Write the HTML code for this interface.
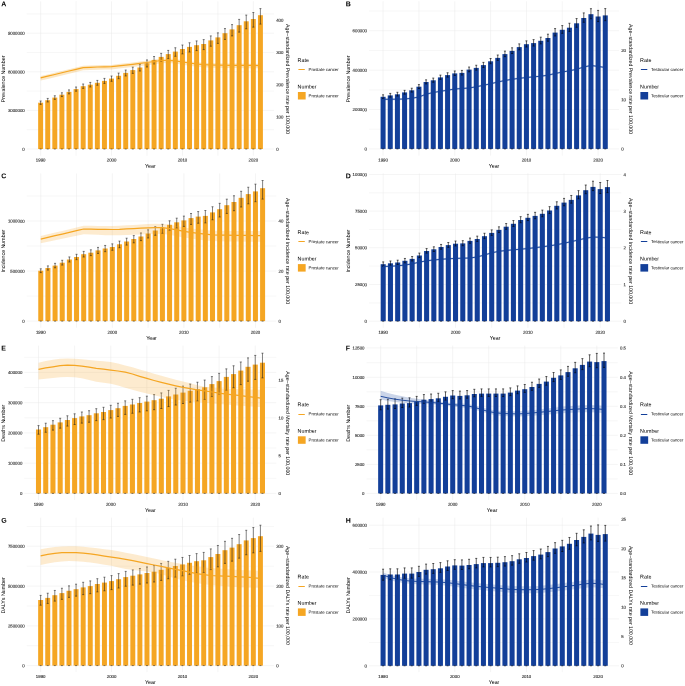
<!DOCTYPE html>
<html><head><meta charset="utf-8"><title>Figure</title>
<style>
html,body{margin:0;padding:0;background:#fff;}
svg{display:block;font-family:"Liberation Sans",sans-serif;text-rendering:geometricPrecision;}
</style></head>
<body>
<div style="will-change:transform;width:685px;height:686px;overflow:hidden">
<svg width="685" height="686" viewBox="0 0 685 686">
<rect width="685" height="686" fill="#ffffff"/>
<g transform="translate(0,0)">
<text transform="translate(1.2 6.25) matrix(1 0.004 0 1 0 0)" font-size="7.0" fill="#000" font-weight="bold">A</text>
<line x1="26.7" x2="274" y1="129.7" y2="129.7" stroke="#eeeeee" stroke-width="0.5"/>
<line x1="26.7" x2="274" y1="91.1" y2="91.1" stroke="#eeeeee" stroke-width="0.5"/>
<line x1="26.7" x2="274" y1="52.5" y2="52.5" stroke="#eeeeee" stroke-width="0.5"/>
<line x1="26.7" x2="274" y1="13.9" y2="13.9" stroke="#eeeeee" stroke-width="0.5"/>
<line x1="76.08" x2="76.08" y1="1.3" y2="155.7" stroke="#eaeaea" stroke-width="0.5"/>
<line x1="146.98" x2="146.98" y1="1.3" y2="155.7" stroke="#eaeaea" stroke-width="0.5"/>
<line x1="217.88" x2="217.88" y1="1.3" y2="155.7" stroke="#eaeaea" stroke-width="0.5"/>
<line x1="26.7" x2="274" y1="149" y2="149" stroke="#ebebeb" stroke-width="0.5"/>
<line x1="26.7" x2="274" y1="110.4" y2="110.4" stroke="#ebebeb" stroke-width="0.5"/>
<line x1="26.7" x2="274" y1="71.8" y2="71.8" stroke="#ebebeb" stroke-width="0.5"/>
<line x1="26.7" x2="274" y1="33.2" y2="33.2" stroke="#ebebeb" stroke-width="0.5"/>
<line x1="40.63" x2="40.63" y1="1.3" y2="155.7" stroke="#e8e8e8" stroke-width="0.5"/>
<line x1="111.53" x2="111.53" y1="1.3" y2="155.7" stroke="#e8e8e8" stroke-width="0.5"/>
<line x1="182.43" x2="182.43" y1="1.3" y2="155.7" stroke="#e8e8e8" stroke-width="0.5"/>
<line x1="253.33" x2="253.33" y1="1.3" y2="155.7" stroke="#e8e8e8" stroke-width="0.5"/>
<rect x="38.15" y="102.7" width="4.96" height="46.3" fill="#F5A623"/>
<rect x="45.24" y="100.2" width="4.96" height="48.8" fill="#F5A623"/>
<rect x="52.33" y="97.6" width="4.96" height="51.4" fill="#F5A623"/>
<rect x="59.42" y="94.7" width="4.96" height="54.3" fill="#F5A623"/>
<rect x="66.51" y="91.9" width="4.96" height="57.1" fill="#F5A623"/>
<rect x="73.6" y="89.1" width="4.96" height="59.9" fill="#F5A623"/>
<rect x="80.69" y="86.2" width="4.96" height="62.8" fill="#F5A623"/>
<rect x="87.78" y="84.7" width="4.96" height="64.3" fill="#F5A623"/>
<rect x="94.87" y="82.8" width="4.96" height="66.2" fill="#F5A623"/>
<rect x="101.96" y="80.9" width="4.96" height="68.1" fill="#F5A623"/>
<rect x="109.05" y="78.6" width="4.96" height="70.4" fill="#F5A623"/>
<rect x="116.14" y="75.8" width="4.96" height="73.2" fill="#F5A623"/>
<rect x="123.23" y="72.9" width="4.96" height="76.1" fill="#F5A623"/>
<rect x="130.32" y="70.1" width="4.96" height="78.9" fill="#F5A623"/>
<rect x="137.41" y="67.5" width="4.96" height="81.5" fill="#F5A623"/>
<rect x="144.5" y="63.2" width="4.96" height="85.8" fill="#F5A623"/>
<rect x="151.59" y="59.9" width="4.96" height="89.1" fill="#F5A623"/>
<rect x="158.68" y="56.9" width="4.96" height="92.1" fill="#F5A623"/>
<rect x="165.77" y="54.1" width="4.96" height="94.9" fill="#F5A623"/>
<rect x="172.86" y="51.6" width="4.96" height="97.4" fill="#F5A623"/>
<rect x="179.95" y="49" width="4.96" height="100" fill="#F5A623"/>
<rect x="187.04" y="46.9" width="4.96" height="102.1" fill="#F5A623"/>
<rect x="194.13" y="45.2" width="4.96" height="103.8" fill="#F5A623"/>
<rect x="201.22" y="44" width="4.96" height="105" fill="#F5A623"/>
<rect x="208.31" y="40.4" width="4.96" height="108.6" fill="#F5A623"/>
<rect x="215.4" y="37.4" width="4.96" height="111.6" fill="#F5A623"/>
<rect x="222.49" y="33.2" width="4.96" height="115.8" fill="#F5A623"/>
<rect x="229.58" y="29.4" width="4.96" height="119.6" fill="#F5A623"/>
<rect x="236.67" y="25.2" width="4.96" height="123.8" fill="#F5A623"/>
<rect x="243.76" y="21.3" width="4.96" height="127.7" fill="#F5A623"/>
<rect x="250.85" y="19" width="4.96" height="130" fill="#F5A623"/>
<rect x="257.94" y="15.2" width="4.96" height="133.8" fill="#F5A623"/>
<path d="M39.64,101H41.62M39.64,104.4H41.62M40.63,101V104.4M39.64,149H41.62M46.73,98.43H48.71M46.73,101.94H48.71M47.72,98.43V101.94M46.73,149H48.71M53.82,95.76H55.8M53.82,99.39H55.8M54.81,95.76V99.39M53.82,149H55.8M60.91,92.78H62.89M60.91,96.57H62.89M61.9,92.78V96.57M60.91,149H62.89M68,89.9H69.98M68,93.86H69.98M68.99,89.9V93.86M68,149H69.98M75.09,87.01H77.07M75.09,91.16H77.07M76.08,87.01V91.16M75.09,149H77.07M82.18,84.01H84.16M82.18,88.37H84.16M83.17,84.01V88.37M82.18,149H84.16M89.27,82.42H91.25M89.27,86.99H91.25M90.26,82.42V86.99M89.27,149H91.25M96.36,80.41H98.34M96.36,85.22H98.34M97.35,80.41V85.22M96.36,149H98.34M103.45,78.41H105.43M103.45,83.46H105.43M104.44,78.41V83.46M103.45,149H105.43M110.54,76H112.52M110.54,81.3H112.52M111.53,76V81.3M110.54,149H112.52M117.63,73.08H119.61M117.63,78.66H119.61M118.62,73.08V78.66M117.63,149H119.61M124.72,70.06H126.7M124.72,75.96H126.7M125.71,70.06V75.96M124.72,149H126.7M131.81,67.12H133.79M131.81,73.39H133.79M132.8,67.12V73.39M131.81,149H133.79M138.9,64.38H140.88M138.9,71.03H140.88M139.89,64.38V71.03M138.9,149H140.88M145.99,59.94H147.97M145.99,66.97H147.97M146.98,59.94V66.97M145.99,149H147.97M153.08,56.5H155.06M153.08,63.9H155.06M154.07,56.5V63.9M153.08,149H155.06M160.17,53.36H162.15M160.17,61.12H162.15M161.16,53.36V61.12M160.17,149H162.15M167.26,50.41H169.24M167.26,58.55H169.24M168.25,50.41V58.55M167.26,149H169.24M174.35,47.76H176.33M174.35,56.28H176.33M175.34,47.76V56.28M174.35,149H176.33M181.44,45.01H183.42M181.44,53.91H183.42M182.43,45.01V53.91M181.44,149H183.42M188.53,42.76H190.51M188.53,52.04H190.51M189.52,42.76V52.04M188.53,149H190.51M195.62,40.92H197.6M195.62,50.57H197.6M196.61,40.92V50.57M195.62,149H197.6M202.71,39.6H204.69M202.71,49.6H204.69M203.7,39.6V49.6M202.71,149H204.69M209.8,35.91H211.78M209.8,46.21H211.78M210.79,35.91V46.21M209.8,149H211.78M216.89,32.85H218.87M216.89,43.4H218.87M217.88,32.85V43.4M216.89,149H218.87M223.98,28.56H225.96M223.98,39.42H225.96M224.97,28.56V39.42M223.98,149H225.96M231.07,24.6H233.05M231.07,35.9H233.05M232.06,24.6V35.9M231.07,149H233.05M238.16,19.4H240.14M238.16,32.11H240.14M239.15,19.4V32.11M238.16,149H240.14M245.25,15.09H247.23M245.25,28.77H247.23M246.24,15.09V28.77M245.25,149H247.23M252.34,12.5H254.32M252.34,27.14H254.32M253.33,12.5V27.14M252.34,149H254.32M259.43,8.6H261.41M259.43,24.1H261.41M260.42,8.6V24.1M259.43,149H261.41" stroke="#1a1a1a" stroke-width="0.55" fill="none"/>
<polygon points="40.63,76.1 47.72,74.4 54.81,72.7 61.9,70.95 68.99,69.2 76.08,67.5 83.17,65.8 90.26,65.5 97.35,65.2 104.44,65.05 111.53,64.9 118.62,64.1 125.71,63.3 132.8,62.5 139.89,61.6 146.98,60.7 154.07,59.7 161.16,58.7 168.25,58.5 175.34,59.1 182.43,60.2 189.52,61.2 196.61,62.2 203.7,62.8 210.79,63.2 217.88,63.34 224.97,63.45 232.06,63.54 239.15,63.61 246.24,63.66 253.33,63.69 260.42,63.7 260.42,68.2 253.33,68.19 246.24,68.16 239.15,68.11 232.06,68.04 224.97,67.95 217.88,67.84 210.79,67.7 203.7,67.3 196.61,66.7 189.52,65.7 182.43,64.7 175.34,63.6 168.25,63 161.16,63.2 154.07,64.2 146.98,65.2 139.89,66.1 132.8,67 125.71,67.8 118.62,68.6 111.53,69.4 104.44,69.55 97.35,69.7 90.26,70 83.17,70.3 76.08,72 68.99,73.7 61.9,75.45 54.81,77.2 47.72,78.9 40.63,80.6" fill="#F5A623" fill-opacity="0.27"/>
<polyline points="40.63,77.9 47.72,76.2 54.81,74.5 61.9,72.75 68.99,71 76.08,69.3 83.17,67.6 90.26,67.3 97.35,67 104.44,66.85 111.53,66.7 118.62,65.9 125.71,65.1 132.8,64.3 139.89,63.4 146.98,62.5 154.07,61.5 161.16,60.5 168.25,60.3 175.34,60.9 182.43,62 189.52,63 196.61,64 203.7,64.6 210.79,65 217.88,65.14 224.97,65.25 232.06,65.34 239.15,65.41 246.24,65.46 253.33,65.49 260.42,65.5" fill="none" stroke="#F5A623" stroke-width="1.25" stroke-linejoin="round"/>
<text transform="translate(24.7 150.65) matrix(1 0.004 0 1 0 0)" font-size="4.32" fill="#383838" text-anchor="end" stroke="#383838" stroke-width="0.14">0</text>
<text transform="translate(24.7 112.05) matrix(1 0.004 0 1 0 0)" font-size="4.32" fill="#383838" text-anchor="end" stroke="#383838" stroke-width="0.14">3000000</text>
<text transform="translate(24.7 73.45) matrix(1 0.004 0 1 0 0)" font-size="4.32" fill="#383838" text-anchor="end" stroke="#383838" stroke-width="0.14">6000000</text>
<text transform="translate(24.7 34.85) matrix(1 0.004 0 1 0 0)" font-size="4.32" fill="#383838" text-anchor="end" stroke="#383838" stroke-width="0.14">9000000</text>
<text transform="translate(276.2 150.65) matrix(1 0.004 0 1 0 0)" font-size="4.32" fill="#383838" stroke="#383838" stroke-width="0.14">0</text>
<text transform="translate(276.2 118.45) matrix(1 0.004 0 1 0 0)" font-size="4.32" fill="#383838" stroke="#383838" stroke-width="0.14">100</text>
<text transform="translate(276.2 86.25) matrix(1 0.004 0 1 0 0)" font-size="4.32" fill="#383838" stroke="#383838" stroke-width="0.14">200</text>
<text transform="translate(276.2 54.05) matrix(1 0.004 0 1 0 0)" font-size="4.32" fill="#383838" stroke="#383838" stroke-width="0.14">300</text>
<text transform="translate(276.2 21.85) matrix(1 0.004 0 1 0 0)" font-size="4.32" fill="#383838" stroke="#383838" stroke-width="0.14">400</text>
<text transform="translate(40.63 161.55) matrix(1 0.004 0 1 0 0)" font-size="4.32" fill="#383838" text-anchor="middle" stroke="#383838" stroke-width="0.14">1990</text>
<text transform="translate(111.53 161.55) matrix(1 0.004 0 1 0 0)" font-size="4.32" fill="#383838" text-anchor="middle" stroke="#383838" stroke-width="0.14">2000</text>
<text transform="translate(182.43 161.55) matrix(1 0.004 0 1 0 0)" font-size="4.32" fill="#383838" text-anchor="middle" stroke="#383838" stroke-width="0.14">2010</text>
<text transform="translate(253.33 161.55) matrix(1 0.004 0 1 0 0)" font-size="4.32" fill="#383838" text-anchor="middle" stroke="#383838" stroke-width="0.14">2020</text>
<text transform="translate(150.35 167.65) matrix(1 0.004 0 1 0 0)" font-size="5.3" fill="#000000" text-anchor="middle">Year</text>
<text transform="translate(5.3 79) rotate(-90)" font-size="5.3" fill="#000000" text-anchor="middle">Prevalence Number</text>
<text transform="translate(285.8 79) rotate(90)" font-size="5.3" fill="#000000" text-anchor="middle" textLength="110" lengthAdjust="spacingAndGlyphs">Age−standardized Prevalence rate per 100,000</text>
<text transform="translate(297.6 62) matrix(1 0.004 0 1 0 0)" font-size="5.35" fill="#000000">Rate</text>
<line x1="298.4" x2="304.8" y1="69.5" y2="69.5" stroke="#F5A623" stroke-width="1.05"/>
<text transform="translate(308.5 71) matrix(1 0.004 0 1 0 0)" font-size="4.32" fill="#000000">Prostate cancer</text>
<text transform="translate(297.6 88.4) matrix(1 0.004 0 1 0 0)" font-size="5.35" fill="#000000">Number</text>
<rect x="297.9" y="92" width="7.75" height="7.5" fill="#F5A623"/>
<text transform="translate(308.5 97.2) matrix(1 0.004 0 1 0 0)" font-size="4.32" fill="#000000">Prostate cancer</text>
</g>
<g transform="translate(0,0)">
<text transform="translate(345.8 6.25) matrix(1 0.004 0 1 0 0)" font-size="7.0" fill="#000" font-weight="bold">B</text>
<line x1="369" x2="619" y1="129.2" y2="129.2" stroke="#eeeeee" stroke-width="0.5"/>
<line x1="369" x2="619" y1="89.9" y2="89.9" stroke="#eeeeee" stroke-width="0.5"/>
<line x1="369" x2="619" y1="50.5" y2="50.5" stroke="#eeeeee" stroke-width="0.5"/>
<line x1="369" x2="619" y1="11" y2="11" stroke="#eeeeee" stroke-width="0.5"/>
<line x1="418.92" x2="418.92" y1="1.3" y2="155.7" stroke="#eaeaea" stroke-width="0.5"/>
<line x1="490.59" x2="490.59" y1="1.3" y2="155.7" stroke="#eaeaea" stroke-width="0.5"/>
<line x1="562.26" x2="562.26" y1="1.3" y2="155.7" stroke="#eaeaea" stroke-width="0.5"/>
<line x1="369" x2="619" y1="148.9" y2="148.9" stroke="#ebebeb" stroke-width="0.5"/>
<line x1="369" x2="619" y1="109.5" y2="109.5" stroke="#ebebeb" stroke-width="0.5"/>
<line x1="369" x2="619" y1="70.2" y2="70.2" stroke="#ebebeb" stroke-width="0.5"/>
<line x1="369" x2="619" y1="30.7" y2="30.7" stroke="#ebebeb" stroke-width="0.5"/>
<line x1="383.08" x2="383.08" y1="1.3" y2="155.7" stroke="#e8e8e8" stroke-width="0.5"/>
<line x1="454.75" x2="454.75" y1="1.3" y2="155.7" stroke="#e8e8e8" stroke-width="0.5"/>
<line x1="526.43" x2="526.43" y1="1.3" y2="155.7" stroke="#e8e8e8" stroke-width="0.5"/>
<line x1="598.1" x2="598.1" y1="1.3" y2="155.7" stroke="#e8e8e8" stroke-width="0.5"/>
<rect x="380.57" y="96.8" width="5.02" height="52.1" fill="#133F99"/>
<rect x="387.74" y="95.4" width="5.02" height="53.5" fill="#133F99"/>
<rect x="394.91" y="94.3" width="5.02" height="54.6" fill="#133F99"/>
<rect x="402.07" y="92.4" width="5.02" height="56.5" fill="#133F99"/>
<rect x="409.24" y="90.3" width="5.02" height="58.6" fill="#133F99"/>
<rect x="416.41" y="86.7" width="5.02" height="62.2" fill="#133F99"/>
<rect x="423.58" y="82" width="5.02" height="66.9" fill="#133F99"/>
<rect x="430.74" y="80.3" width="5.02" height="68.6" fill="#133F99"/>
<rect x="437.91" y="77.4" width="5.02" height="71.5" fill="#133F99"/>
<rect x="445.08" y="75.1" width="5.02" height="73.8" fill="#133F99"/>
<rect x="452.25" y="73.4" width="5.02" height="75.5" fill="#133F99"/>
<rect x="459.41" y="72.9" width="5.02" height="76" fill="#133F99"/>
<rect x="466.58" y="69.6" width="5.02" height="79.3" fill="#133F99"/>
<rect x="473.75" y="67.9" width="5.02" height="81" fill="#133F99"/>
<rect x="480.92" y="65.1" width="5.02" height="83.8" fill="#133F99"/>
<rect x="488.08" y="61.3" width="5.02" height="87.6" fill="#133F99"/>
<rect x="495.25" y="57.9" width="5.02" height="91" fill="#133F99"/>
<rect x="502.42" y="54.1" width="5.02" height="94.8" fill="#133F99"/>
<rect x="509.58" y="50.9" width="5.02" height="98" fill="#133F99"/>
<rect x="516.75" y="47.1" width="5.02" height="101.8" fill="#133F99"/>
<rect x="523.92" y="44.2" width="5.02" height="104.7" fill="#133F99"/>
<rect x="531.09" y="43.1" width="5.02" height="105.8" fill="#133F99"/>
<rect x="538.25" y="40.8" width="5.02" height="108.1" fill="#133F99"/>
<rect x="545.42" y="38" width="5.02" height="110.9" fill="#133F99"/>
<rect x="552.59" y="32.6" width="5.02" height="116.3" fill="#133F99"/>
<rect x="559.76" y="29.8" width="5.02" height="119.1" fill="#133F99"/>
<rect x="566.92" y="27.7" width="5.02" height="121.2" fill="#133F99"/>
<rect x="574.09" y="23.3" width="5.02" height="125.6" fill="#133F99"/>
<rect x="581.26" y="18" width="5.02" height="130.9" fill="#133F99"/>
<rect x="588.43" y="14.2" width="5.02" height="134.7" fill="#133F99"/>
<rect x="595.59" y="16.5" width="5.02" height="132.4" fill="#133F99"/>
<rect x="602.76" y="15.4" width="5.02" height="133.5" fill="#133F99"/>
<path d="M382.08,94.8H384.08M382.08,98.5H384.08M383.08,94.8V98.5M382.08,148.9H384.08M389.24,93.39H391.25M389.24,97.11H391.25M390.25,93.39V97.11M389.24,148.9H391.25M396.41,92.28H398.42M396.41,96.03H398.42M397.41,92.28V96.03M396.41,148.9H398.42M403.58,90.35H405.59M403.58,94.16H405.59M404.58,90.35V94.16M403.58,148.9H405.59M410.75,88.22H412.75M410.75,92.09H412.75M411.75,88.22V92.09M410.75,148.9H412.75M417.91,84.58H419.92M417.91,88.53H419.92M418.92,84.58V88.53M417.91,148.9H419.92M425.08,79.83H427.09M425.08,83.87H427.09M426.08,79.83V83.87M425.08,148.9H427.09M432.25,78.08H434.26M432.25,82.21H434.26M433.25,78.08V82.21M432.25,148.9H434.26M439.42,75.12H441.42M439.42,79.37H441.42M440.42,75.12V79.37M439.42,148.9H441.42M446.58,72.75H448.59M446.58,77.12H448.59M447.59,72.75V77.12M446.58,148.9H448.59M453.75,70.98H455.76M453.75,75.48H455.76M454.75,70.98V75.48M453.75,148.9H455.76M460.92,70.41H462.92M460.92,75.04H462.92M461.92,70.41V75.04M460.92,148.9H462.92M468.09,67.04H470.09M468.09,71.8H470.09M469.09,67.04V71.8M468.09,148.9H470.09M475.25,65.26H477.26M475.25,70.17H477.26M476.26,65.26V70.17M475.25,148.9H477.26M482.42,62.38H484.43M482.42,67.43H484.43M483.42,62.38V67.43M482.42,148.9H484.43M489.59,58.5H491.59M489.59,63.7H491.59M490.59,58.5V63.7M489.59,148.9H491.59M496.75,55.01H498.76M496.75,60.37H498.76M497.76,55.01V60.37M496.75,148.9H498.76M503.92,51.12H505.93M503.92,56.65H505.93M504.93,51.12V56.65M503.92,148.9H505.93M511.09,47.81H513.1M511.09,53.53H513.1M512.09,47.81V53.53M511.09,148.9H513.1M518.26,43.89H520.26M518.26,49.82H520.26M519.26,43.89V49.82M518.26,148.9H520.26M525.42,40.86H527.43M525.42,47.02H527.43M526.43,40.86V47.02M525.42,148.9H527.43M532.59,39.62H534.6M532.59,46.04H534.6M533.6,39.62V46.04M532.59,148.9H534.6M539.76,37.16H541.77M539.76,43.86H541.77M540.76,37.16V43.86M539.76,148.9H541.77M546.93,34.19H548.93M546.93,41.19H548.93M547.93,34.19V41.19M546.93,148.9H548.93M554.09,28.6H556.1M554.09,35.94H556.1M555.1,28.6V35.94M554.09,148.9H556.1M561.26,25.6H563.27M561.26,33.3H563.27M562.26,25.6V33.3M561.26,148.9H563.27M568.43,23.26H570.44M568.43,31.4H570.44M569.43,23.26V31.4M568.43,148.9H570.44M575.6,18.57H577.6M575.6,27.25H577.6M576.6,18.57V27.25M575.6,148.9H577.6M582.76,12.92H584.77M582.76,22.25H584.77M583.77,12.92V22.25M582.76,148.9H584.77M589.93,8.7H591.94M589.93,18.8H591.94M590.93,8.7V18.8M589.93,148.9H591.94M597.1,10.4H599.11M597.1,21.6H599.11M598.1,10.4V21.6M597.1,148.9H599.11M604.27,8.6H606.27M604.27,20.7H606.27M605.27,8.6V20.7M604.27,148.9H606.27" stroke="#000" stroke-width="0.62" fill="none"/>
<polygon points="383.08,98.3 390.25,98.27 397.41,98.17 404.58,98 411.75,97.3 418.92,96 426.08,93.2 433.25,91.5 440.42,90.3 447.59,89.2 454.75,88 461.92,87.5 469.09,87 476.26,85.8 483.42,84.3 490.59,82.8 497.76,81 504.93,79.5 512.09,78.3 519.26,77.33 526.43,76.5 533.6,75.86 540.76,75.2 547.93,74.2 555.1,72.5 562.26,71.08 569.43,69.77 576.6,68.3 583.77,65.99 590.93,64.5 598.1,65.4 605.27,66.5 605.27,68.5 598.1,67.4 590.93,66.5 583.77,67.99 576.6,70.3 569.43,71.77 562.26,73.08 555.1,74.5 547.93,76.2 540.76,77.2 533.6,77.86 526.43,78.5 519.26,79.33 512.09,80.3 504.93,81.5 497.76,83 490.59,84.8 483.42,86.3 476.26,87.8 469.09,89 461.92,89.5 454.75,90 447.59,91.2 440.42,92.3 433.25,93.5 426.08,95.2 418.92,98 411.75,99.3 404.58,100 397.41,100.17 390.25,100.27 383.08,100.3" fill="#133F99" fill-opacity="0.22"/>
<polyline points="383.08,99.3 390.25,99.27 397.41,99.17 404.58,99 411.75,98.3 418.92,97 426.08,94.2 433.25,92.5 440.42,91.3 447.59,90.2 454.75,89 461.92,88.5 469.09,88 476.26,86.8 483.42,85.3 490.59,83.8 497.76,82 504.93,80.5 512.09,79.3 519.26,78.33 526.43,77.5 533.6,76.86 540.76,76.2 547.93,75.2 555.1,73.5 562.26,72.08 569.43,70.77 576.6,69.3 583.77,66.99 590.93,65.5 598.1,66.4 605.27,67.5" fill="none" stroke="#133F99" stroke-width="0.9" stroke-linejoin="round"/>
<text transform="translate(367 150.55) matrix(1 0.004 0 1 0 0)" font-size="4.32" fill="#383838" text-anchor="end" stroke="#383838" stroke-width="0.14">0</text>
<text transform="translate(367 111.15) matrix(1 0.004 0 1 0 0)" font-size="4.32" fill="#383838" text-anchor="end" stroke="#383838" stroke-width="0.14">200000</text>
<text transform="translate(367 71.85) matrix(1 0.004 0 1 0 0)" font-size="4.32" fill="#383838" text-anchor="end" stroke="#383838" stroke-width="0.14">400000</text>
<text transform="translate(367 32.35) matrix(1 0.004 0 1 0 0)" font-size="4.32" fill="#383838" text-anchor="end" stroke="#383838" stroke-width="0.14">600000</text>
<text transform="translate(621.2 150.55) matrix(1 0.004 0 1 0 0)" font-size="4.32" fill="#383838" stroke="#383838" stroke-width="0.14">0</text>
<text transform="translate(621.2 101.25) matrix(1 0.004 0 1 0 0)" font-size="4.32" fill="#383838" stroke="#383838" stroke-width="0.14">10</text>
<text transform="translate(621.2 52.05) matrix(1 0.004 0 1 0 0)" font-size="4.32" fill="#383838" stroke="#383838" stroke-width="0.14">20</text>
<text transform="translate(383.08 161.55) matrix(1 0.004 0 1 0 0)" font-size="4.32" fill="#383838" text-anchor="middle" stroke="#383838" stroke-width="0.14">1990</text>
<text transform="translate(454.75 161.55) matrix(1 0.004 0 1 0 0)" font-size="4.32" fill="#383838" text-anchor="middle" stroke="#383838" stroke-width="0.14">2000</text>
<text transform="translate(526.43 161.55) matrix(1 0.004 0 1 0 0)" font-size="4.32" fill="#383838" text-anchor="middle" stroke="#383838" stroke-width="0.14">2010</text>
<text transform="translate(598.1 161.55) matrix(1 0.004 0 1 0 0)" font-size="4.32" fill="#383838" text-anchor="middle" stroke="#383838" stroke-width="0.14">2020</text>
<text transform="translate(494 167.65) matrix(1 0.004 0 1 0 0)" font-size="5.3" fill="#000000" text-anchor="middle">Year</text>
<text transform="translate(349.9 79) rotate(-90)" font-size="5.3" fill="#000000" text-anchor="middle">Prevalence Number</text>
<text transform="translate(628.7 79) rotate(90)" font-size="5.3" fill="#000000" text-anchor="middle" textLength="110" lengthAdjust="spacingAndGlyphs">Age−standardized Prevalence rate per 100,000</text>
<text transform="translate(640.1 62) matrix(1 0.004 0 1 0 0)" font-size="5.35" fill="#000000">Rate</text>
<line x1="640.9" x2="647.3" y1="69.5" y2="69.5" stroke="#133F99" stroke-width="1.05"/>
<text transform="translate(651 71) matrix(1 0.004 0 1 0 0)" font-size="4.32" fill="#000000">Testicular cancer</text>
<text transform="translate(640.1 88.4) matrix(1 0.004 0 1 0 0)" font-size="5.35" fill="#000000">Number</text>
<rect x="640.4" y="92" width="7.75" height="7.5" fill="#133F99"/>
<text transform="translate(651 97.2) matrix(1 0.004 0 1 0 0)" font-size="4.32" fill="#000000">Testicular cancer</text>
</g>
<g transform="translate(0,172.1)">
<text transform="translate(1.2 6.25) matrix(1 0.004 0 1 0 0)" font-size="7.0" fill="#000" font-weight="bold">C</text>
<line x1="26.7" x2="276.3" y1="124" y2="124" stroke="#eeeeee" stroke-width="0.5"/>
<line x1="26.7" x2="276.3" y1="73.9" y2="73.9" stroke="#eeeeee" stroke-width="0.5"/>
<line x1="26.7" x2="276.3" y1="23.9" y2="23.9" stroke="#eeeeee" stroke-width="0.5"/>
<line x1="76.54" x2="76.54" y1="1.3" y2="155.7" stroke="#eaeaea" stroke-width="0.5"/>
<line x1="148.1" x2="148.1" y1="1.3" y2="155.7" stroke="#eaeaea" stroke-width="0.5"/>
<line x1="219.66" x2="219.66" y1="1.3" y2="155.7" stroke="#eaeaea" stroke-width="0.5"/>
<line x1="26.7" x2="276.3" y1="149" y2="149" stroke="#ebebeb" stroke-width="0.5"/>
<line x1="26.7" x2="276.3" y1="98.95" y2="98.95" stroke="#ebebeb" stroke-width="0.5"/>
<line x1="26.7" x2="276.3" y1="48.9" y2="48.9" stroke="#ebebeb" stroke-width="0.5"/>
<line x1="40.76" x2="40.76" y1="1.3" y2="155.7" stroke="#e8e8e8" stroke-width="0.5"/>
<line x1="112.32" x2="112.32" y1="1.3" y2="155.7" stroke="#e8e8e8" stroke-width="0.5"/>
<line x1="183.88" x2="183.88" y1="1.3" y2="155.7" stroke="#e8e8e8" stroke-width="0.5"/>
<line x1="255.44" x2="255.44" y1="1.3" y2="155.7" stroke="#e8e8e8" stroke-width="0.5"/>
<rect x="38.26" y="98.6" width="5.01" height="50.4" fill="#F5A623"/>
<rect x="45.41" y="95.9" width="5.01" height="53.1" fill="#F5A623"/>
<rect x="52.57" y="93.5" width="5.01" height="55.5" fill="#F5A623"/>
<rect x="59.72" y="90.6" width="5.01" height="58.4" fill="#F5A623"/>
<rect x="66.88" y="87.4" width="5.01" height="61.6" fill="#F5A623"/>
<rect x="74.04" y="84.9" width="5.01" height="64.1" fill="#F5A623"/>
<rect x="81.19" y="82.1" width="5.01" height="66.9" fill="#F5A623"/>
<rect x="88.35" y="80.6" width="5.01" height="68.4" fill="#F5A623"/>
<rect x="95.5" y="78.3" width="5.01" height="70.7" fill="#F5A623"/>
<rect x="102.66" y="76.4" width="5.01" height="72.6" fill="#F5A623"/>
<rect x="109.82" y="74.9" width="5.01" height="74.1" fill="#F5A623"/>
<rect x="116.97" y="72.2" width="5.01" height="76.8" fill="#F5A623"/>
<rect x="124.13" y="69.4" width="5.01" height="79.6" fill="#F5A623"/>
<rect x="131.28" y="66.9" width="5.01" height="82.1" fill="#F5A623"/>
<rect x="138.44" y="64.4" width="5.01" height="84.6" fill="#F5A623"/>
<rect x="145.6" y="61.4" width="5.01" height="87.6" fill="#F5A623"/>
<rect x="152.75" y="58.4" width="5.01" height="90.6" fill="#F5A623"/>
<rect x="159.91" y="56.1" width="5.01" height="92.9" fill="#F5A623"/>
<rect x="167.06" y="52.7" width="5.01" height="96.3" fill="#F5A623"/>
<rect x="174.22" y="50.2" width="5.01" height="98.8" fill="#F5A623"/>
<rect x="181.38" y="48.3" width="5.01" height="100.7" fill="#F5A623"/>
<rect x="188.53" y="46" width="5.01" height="103" fill="#F5A623"/>
<rect x="195.69" y="44.5" width="5.01" height="104.5" fill="#F5A623"/>
<rect x="202.84" y="43.8" width="5.01" height="105.2" fill="#F5A623"/>
<rect x="210" y="40.3" width="5.01" height="108.7" fill="#F5A623"/>
<rect x="217.16" y="37.1" width="5.01" height="111.9" fill="#F5A623"/>
<rect x="224.31" y="33.1" width="5.01" height="115.9" fill="#F5A623"/>
<rect x="231.47" y="29.9" width="5.01" height="119.1" fill="#F5A623"/>
<rect x="238.62" y="25.7" width="5.01" height="123.3" fill="#F5A623"/>
<rect x="245.78" y="22" width="5.01" height="127" fill="#F5A623"/>
<rect x="252.94" y="19.3" width="5.01" height="129.7" fill="#F5A623"/>
<rect x="260.09" y="16.1" width="5.01" height="132.9" fill="#F5A623"/>
<path d="M39.76,96.7H41.76M39.76,100.5H41.76M40.76,96.7V100.5M39.76,149H41.76M46.91,93.82H48.92M46.91,97.96H48.92M47.92,93.82V97.96M46.91,149H48.92M54.07,91.25H56.07M54.07,95.71H56.07M55.07,91.25V95.71M54.07,149H56.07M61.23,88.19H63.23M61.23,92.96H63.23M62.23,88.19V92.96M61.23,149H63.23M68.38,84.85H70.39M68.38,89.91H70.39M69.38,84.85V89.91M68.38,149H70.39M75.54,82.22H77.54M75.54,87.56H77.54M76.54,82.22V87.56M75.54,149H77.54M82.69,79.3H84.7M82.69,84.9H84.7M83.7,79.3V84.9M82.69,149H84.7M89.85,77.7H91.85M89.85,83.53H91.85M90.85,77.7V83.53M89.85,149H91.85M97.01,75.32H99.01M97.01,81.35H99.01M98.01,75.32V81.35M97.01,149H99.01M104.16,73.35H106.17M104.16,79.56H106.17M105.16,73.35V79.56M104.16,149H106.17M111.32,71.77H113.32M111.32,78.19H113.32M112.32,71.77V78.19M111.32,149H113.32M118.47,68.99H120.48M118.47,75.63H120.48M119.48,68.99V75.63M118.47,149H120.48M125.63,66.1H127.63M125.63,73H127.63M126.63,66.1V73M125.63,149H127.63M132.79,63.49H134.79M132.79,70.74H134.79M133.79,63.49V70.74M132.79,149H134.79M139.94,60.86H141.95M139.94,68.54H141.95M140.94,60.86V68.54M139.94,149H141.95M147.1,57.73H149.1M147.1,65.88H149.1M148.1,57.73V65.88M147.1,149H149.1M154.25,54.6H156.26M154.25,63.2H156.26M155.26,54.6V63.2M154.25,149H156.26M161.41,52.19H163.41M161.41,61.2H163.41M162.41,52.19V61.2M161.41,149H163.41M168.57,48.68H170.57M168.57,58.1H170.57M169.57,48.68V58.1M168.57,149H170.57M175.72,46.06H177.73M175.72,55.89H177.73M176.72,46.06V55.89M175.72,149H177.73M182.88,44H184.88M182.88,54.3H184.88M183.88,44V54.3M182.88,149H184.88M190.03,41.39H192.04M190.03,52.31H192.04M191.04,41.39V52.31M190.03,149H192.04M197.19,39.47H199.19M197.19,51.14H199.19M198.19,39.47V51.14M197.19,149H199.19M204.35,38.4H206.35M204.35,50.8H206.35M205.35,38.4V50.8M204.35,149H206.35M211.5,34.65H213.51M211.5,47.69H213.51M212.5,34.65V47.69M211.5,149H213.51M218.66,31.25H220.66M218.66,44.9H220.66M219.66,31.25V44.9M218.66,149H220.66M225.81,27.06H227.82M225.81,41.34H227.82M226.82,27.06V41.34M225.81,149H227.82M232.97,23.66H234.97M232.97,38.61H234.97M233.97,23.66V38.61M232.97,149H234.97M240.13,19.2H242.13M240.13,34.9H242.13M241.13,19.2V34.9M240.13,149H242.13M247.28,15.16H249.29M247.28,31.73H249.29M248.28,15.16V31.73M247.28,149H249.29M254.44,12.05H256.44M254.44,29.6H256.44M255.44,12.05V29.6M254.44,149H256.44M261.59,8.4H263.6M261.59,27H263.6M262.6,8.4V27M261.59,149H263.6" stroke="#1a1a1a" stroke-width="0.55" fill="none"/>
<polygon points="40.76,64 47.92,62.25 55.07,60.5 62.23,58.8 69.38,57.11 76.54,55.36 83.7,53.61 90.85,53.66 98.01,53.81 105.16,53.9 112.32,53.92 119.48,53.65 126.63,53.22 133.79,52.82 140.94,52.42 148.1,51.99 155.26,51.73 162.41,51.78 169.57,52.63 176.72,53.97 183.88,55.33 191.04,56.31 198.19,57.14 205.35,57.98 212.5,58.54 219.66,58.72 226.82,58.83 233.97,58.89 241.13,58.95 248.28,58.99 255.44,59.01 262.6,59 262.6,69.7 255.44,69.66 248.28,69.59 241.13,69.5 233.97,69.4 226.82,69.29 219.66,69.13 212.5,68.9 205.35,68.29 198.19,67.4 191.04,66.52 183.88,65.5 176.72,64.08 169.57,62.7 162.41,61.8 155.26,61.7 148.1,61.92 140.94,62.3 133.79,62.65 126.63,63 119.48,63.21 112.32,63.27 105.16,63.03 98.01,62.73 90.85,62.37 83.7,62.1 76.54,63.63 69.38,65.17 62.23,66.65 55.07,68.13 47.92,69.67 40.76,71.2" fill="#F5A623" fill-opacity="0.22"/>
<polyline points="40.76,67 47.92,65.3 55.07,63.6 62.23,61.95 69.38,60.3 76.54,58.6 83.7,56.9 90.85,57 98.01,57.2 105.16,57.33 112.32,57.4 119.48,57.18 126.63,56.8 133.79,56.45 140.94,56.1 148.1,55.72 155.26,55.5 162.41,55.6 169.57,56.5 176.72,57.88 183.88,59.3 191.04,60.32 198.19,61.2 205.35,62.09 212.5,62.7 219.66,62.93 226.82,63.09 233.97,63.2 241.13,63.3 248.28,63.39 255.44,63.46 262.6,63.5" fill="none" stroke="#F5A623" stroke-width="1.25" stroke-linejoin="round"/>
<text transform="translate(24.7 150.65) matrix(1 0.004 0 1 0 0)" font-size="4.32" fill="#383838" text-anchor="end" stroke="#383838" stroke-width="0.14">0</text>
<text transform="translate(24.7 100.6) matrix(1 0.004 0 1 0 0)" font-size="4.32" fill="#383838" text-anchor="end" stroke="#383838" stroke-width="0.14">500000</text>
<text transform="translate(24.7 50.55) matrix(1 0.004 0 1 0 0)" font-size="4.32" fill="#383838" text-anchor="end" stroke="#383838" stroke-width="0.14">1000000</text>
<text transform="translate(278.5 150.65) matrix(1 0.004 0 1 0 0)" font-size="4.32" fill="#383838" stroke="#383838" stroke-width="0.14">0</text>
<text transform="translate(278.5 100.55) matrix(1 0.004 0 1 0 0)" font-size="4.32" fill="#383838" stroke="#383838" stroke-width="0.14">20</text>
<text transform="translate(278.5 50.45) matrix(1 0.004 0 1 0 0)" font-size="4.32" fill="#383838" stroke="#383838" stroke-width="0.14">40</text>
<text transform="translate(40.76 161.55) matrix(1 0.004 0 1 0 0)" font-size="4.32" fill="#383838" text-anchor="middle" stroke="#383838" stroke-width="0.14">1990</text>
<text transform="translate(112.32 161.55) matrix(1 0.004 0 1 0 0)" font-size="4.32" fill="#383838" text-anchor="middle" stroke="#383838" stroke-width="0.14">2000</text>
<text transform="translate(183.88 161.55) matrix(1 0.004 0 1 0 0)" font-size="4.32" fill="#383838" text-anchor="middle" stroke="#383838" stroke-width="0.14">2010</text>
<text transform="translate(255.44 161.55) matrix(1 0.004 0 1 0 0)" font-size="4.32" fill="#383838" text-anchor="middle" stroke="#383838" stroke-width="0.14">2020</text>
<text transform="translate(151.5 167.65) matrix(1 0.004 0 1 0 0)" font-size="5.3" fill="#000000" text-anchor="middle">Year</text>
<text transform="translate(5.3 79) rotate(-90)" font-size="5.3" fill="#000000" text-anchor="middle">Incidence Number</text>
<text transform="translate(285.8 79) rotate(90)" font-size="5.3" fill="#000000" text-anchor="middle" textLength="106" lengthAdjust="spacingAndGlyphs">Age−standardized Incidence rate per 100,000</text>
<text transform="translate(297.6 62) matrix(1 0.004 0 1 0 0)" font-size="5.35" fill="#000000">Rate</text>
<line x1="298.4" x2="304.8" y1="69.4" y2="69.4" stroke="#F5A623" stroke-width="1.05"/>
<text transform="translate(308.5 71) matrix(1 0.004 0 1 0 0)" font-size="4.32" fill="#000000">Prostate cancer</text>
<text transform="translate(297.6 88.4) matrix(1 0.004 0 1 0 0)" font-size="5.35" fill="#000000">Number</text>
<rect x="297.9" y="92" width="7.75" height="7.5" fill="#F5A623"/>
<text transform="translate(308.5 97.2) matrix(1 0.004 0 1 0 0)" font-size="4.32" fill="#000000">Prostate cancer</text>
</g>
<g transform="translate(0,172.1)">
<text transform="translate(345.8 6.25) matrix(1 0.004 0 1 0 0)" font-size="7.0" fill="#000" font-weight="bold">D</text>
<line x1="369" x2="621.3" y1="130.8" y2="130.8" stroke="#eeeeee" stroke-width="0.5"/>
<line x1="369" x2="621.3" y1="94" y2="94" stroke="#eeeeee" stroke-width="0.5"/>
<line x1="369" x2="621.3" y1="57.3" y2="57.3" stroke="#eeeeee" stroke-width="0.5"/>
<line x1="369" x2="621.3" y1="20.7" y2="20.7" stroke="#eeeeee" stroke-width="0.5"/>
<line x1="419.38" x2="419.38" y1="1.3" y2="155.7" stroke="#eaeaea" stroke-width="0.5"/>
<line x1="491.71" x2="491.71" y1="1.3" y2="155.7" stroke="#eaeaea" stroke-width="0.5"/>
<line x1="564.04" x2="564.04" y1="1.3" y2="155.7" stroke="#eaeaea" stroke-width="0.5"/>
<line x1="369" x2="621.3" y1="149.1" y2="149.1" stroke="#ebebeb" stroke-width="0.5"/>
<line x1="369" x2="621.3" y1="112.4" y2="112.4" stroke="#ebebeb" stroke-width="0.5"/>
<line x1="369" x2="621.3" y1="75.6" y2="75.6" stroke="#ebebeb" stroke-width="0.5"/>
<line x1="369" x2="621.3" y1="39" y2="39" stroke="#ebebeb" stroke-width="0.5"/>
<line x1="369" x2="621.3" y1="2.4" y2="2.4" stroke="#ebebeb" stroke-width="0.5"/>
<line x1="383.21" x2="383.21" y1="1.3" y2="155.7" stroke="#e8e8e8" stroke-width="0.5"/>
<line x1="455.54" x2="455.54" y1="1.3" y2="155.7" stroke="#e8e8e8" stroke-width="0.5"/>
<line x1="527.88" x2="527.88" y1="1.3" y2="155.7" stroke="#e8e8e8" stroke-width="0.5"/>
<line x1="600.21" x2="600.21" y1="1.3" y2="155.7" stroke="#e8e8e8" stroke-width="0.5"/>
<rect x="380.68" y="92.1" width="5.06" height="57" fill="#133F99"/>
<rect x="387.91" y="91.2" width="5.06" height="57.9" fill="#133F99"/>
<rect x="395.15" y="90.4" width="5.06" height="58.7" fill="#133F99"/>
<rect x="402.38" y="88.7" width="5.06" height="60.4" fill="#133F99"/>
<rect x="409.61" y="86.8" width="5.06" height="62.3" fill="#133F99"/>
<rect x="416.85" y="83.4" width="5.06" height="65.7" fill="#133F99"/>
<rect x="424.08" y="78.9" width="5.06" height="70.2" fill="#133F99"/>
<rect x="431.31" y="77.2" width="5.06" height="71.9" fill="#133F99"/>
<rect x="438.55" y="74.9" width="5.06" height="74.2" fill="#133F99"/>
<rect x="445.78" y="73" width="5.06" height="76.1" fill="#133F99"/>
<rect x="453.01" y="71.6" width="5.06" height="77.5" fill="#133F99"/>
<rect x="460.25" y="71.3" width="5.06" height="77.8" fill="#133F99"/>
<rect x="467.48" y="68.8" width="5.06" height="80.3" fill="#133F99"/>
<rect x="474.71" y="66.9" width="5.06" height="82.2" fill="#133F99"/>
<rect x="481.95" y="64.1" width="5.06" height="85" fill="#133F99"/>
<rect x="489.18" y="60.8" width="5.06" height="88.3" fill="#133F99"/>
<rect x="496.41" y="57.8" width="5.06" height="91.3" fill="#133F99"/>
<rect x="503.65" y="54.6" width="5.06" height="94.5" fill="#133F99"/>
<rect x="510.88" y="51.7" width="5.06" height="97.4" fill="#133F99"/>
<rect x="518.11" y="47.9" width="5.06" height="101.2" fill="#133F99"/>
<rect x="525.35" y="45.7" width="5.06" height="103.4" fill="#133F99"/>
<rect x="532.58" y="43.8" width="5.06" height="105.3" fill="#133F99"/>
<rect x="539.81" y="41.7" width="5.06" height="107.4" fill="#133F99"/>
<rect x="547.05" y="38.4" width="5.06" height="110.7" fill="#133F99"/>
<rect x="554.28" y="33.7" width="5.06" height="115.4" fill="#133F99"/>
<rect x="561.51" y="30.5" width="5.06" height="118.6" fill="#133F99"/>
<rect x="568.75" y="27.8" width="5.06" height="121.3" fill="#133F99"/>
<rect x="575.98" y="23.3" width="5.06" height="125.8" fill="#133F99"/>
<rect x="583.21" y="18.1" width="5.06" height="131" fill="#133F99"/>
<rect x="590.45" y="14.8" width="5.06" height="134.3" fill="#133F99"/>
<rect x="597.68" y="17" width="5.06" height="132.1" fill="#133F99"/>
<rect x="604.91" y="15" width="5.06" height="134.1" fill="#133F99"/>
<path d="M382.2,89.8H384.22M382.2,94.1H384.22M383.21,89.8V94.1M382.2,149.1H384.22M389.43,88.89H391.46M389.43,93.21H391.46M390.44,88.89V93.21M389.43,149.1H391.46M396.66,88.08H398.69M396.66,92.43H398.69M397.68,88.08V92.43M396.66,149.1H398.69M403.9,86.36H405.92M403.9,90.75H405.92M404.91,86.36V90.75M403.9,149.1H405.92M411.13,84.43H413.16M411.13,88.88H413.16M412.14,84.43V88.88M411.13,149.1H413.16M418.36,80.99H420.39M418.36,85.5H420.39M419.38,80.99V85.5M418.36,149.1H420.39M425.6,76.45H427.62M425.6,81.03H427.62M426.61,76.45V81.03M425.6,149.1H427.62M432.83,74.7H434.86M432.83,79.37H434.86M433.84,74.7V79.37M432.83,149.1H434.86M440.06,72.35H442.09M440.06,77.1H442.09M441.08,72.35V77.1M440.06,149.1H442.09M447.3,70.39H449.32M447.3,75.24H449.32M448.31,70.39V75.24M447.3,149.1H449.32M454.53,68.93H456.56M454.53,73.88H456.56M455.54,68.93V73.88M454.53,149.1H456.56M461.76,68.57H463.79M461.76,73.62H463.79M462.78,68.57V73.62M461.76,149.1H463.79M469,66H471.02M469,71.16H471.02M470.01,66V71.16M469,149.1H471.02M476.23,64.04H478.26M476.23,69.31H478.26M477.24,64.04V69.31M476.23,149.1H478.26M483.46,61.17H485.49M483.46,66.55H485.49M484.48,61.17V66.55M483.46,149.1H485.49M490.7,57.8H492.72M490.7,63.3H492.72M491.71,57.8V63.3M490.7,149.1H492.72M497.93,54.73H499.96M497.93,60.35H499.96M498.94,54.73V60.35M497.93,149.1H499.96M505.17,51.45H507.19M505.17,57.2H507.19M506.18,51.45V57.2M505.17,149.1H507.19M512.4,48.46H514.42M512.4,54.36H514.42M513.41,48.46V54.36M512.4,149.1H514.42M519.63,44.57H521.66M519.63,50.62H521.66M520.64,44.57V50.62M519.63,149.1H521.66M526.87,42.26H528.89M526.87,48.49H528.89M527.88,42.26V48.49M526.87,149.1H528.89M534.1,40.24H536.12M534.1,46.66H536.12M535.11,40.24V46.66M534.1,149.1H536.12M541.33,38H543.36M541.33,44.64H543.36M542.34,38V44.64M541.33,149.1H543.36M548.57,34.55H550.59M548.57,41.42H550.59M549.58,34.55V41.42M548.57,149.1H550.59M555.8,29.69H557.82M555.8,36.81H557.82M556.81,29.69V36.81M555.8,149.1H557.82M563.03,26.3H565.06M563.03,33.7H565.06M564.04,26.3V33.7M563.03,149.1H565.06M570.27,23.36H572.29M570.27,31.08H572.29M571.28,23.36V31.08M570.27,149.1H572.29M577.5,18.54H579.52M577.5,26.67H579.52M578.51,18.54V26.67M577.5,149.1H579.52M584.73,12.92H586.76M584.73,21.6H586.76M585.75,12.92V21.6M584.73,149.1H586.76M591.97,9.1H593.99M591.97,18.5H593.99M592.98,9.1V18.5M591.97,149.1H593.99M599.2,10.4H601.22M599.2,21.4H601.22M600.21,10.4V21.4M599.2,149.1H601.22M606.43,8.4H608.46M606.43,20.5H608.46M607.45,8.4V20.5M606.43,149.1H608.46" stroke="#000" stroke-width="0.62" fill="none"/>
<polygon points="383.21,93.4 390.44,93.19 397.68,92.68 404.91,92 412.14,90.76 419.38,89.04 426.61,87.7 433.84,86.89 441.08,86.21 448.31,85.67 455.54,85.3 462.78,85.11 470.01,84.9 477.24,83.85 484.48,81.88 491.71,79.74 498.94,78.2 506.18,77.36 513.41,76.71 520.64,76.11 527.88,75.4 535.11,74.58 542.34,73.7 549.58,72.72 556.81,71.6 564.04,70.18 571.28,68.52 578.51,66.9 585.75,65.07 592.98,64 600.21,64.11 607.45,64.9 607.45,66.9 600.21,66.11 592.98,66 585.75,67.07 578.51,68.9 571.28,70.52 564.04,72.18 556.81,73.6 549.58,74.72 542.34,75.7 535.11,76.58 527.88,77.4 520.64,78.11 513.41,78.71 506.18,79.36 498.94,80.2 491.71,81.74 484.48,83.88 477.24,85.85 470.01,86.9 462.78,87.11 455.54,87.3 448.31,87.67 441.08,88.21 433.84,88.89 426.61,89.7 419.38,91.04 412.14,92.76 404.91,94 397.68,94.68 390.44,95.19 383.21,95.4" fill="#133F99" fill-opacity="0.22"/>
<polyline points="383.21,94.4 390.44,94.19 397.68,93.68 404.91,93 412.14,91.76 419.38,90.04 426.61,88.7 433.84,87.89 441.08,87.21 448.31,86.67 455.54,86.3 462.78,86.11 470.01,85.9 477.24,84.85 484.48,82.88 491.71,80.74 498.94,79.2 506.18,78.36 513.41,77.71 520.64,77.11 527.88,76.4 535.11,75.58 542.34,74.7 549.58,73.72 556.81,72.6 564.04,71.18 571.28,69.52 578.51,67.9 585.75,66.07 592.98,65 600.21,65.11 607.45,65.9" fill="none" stroke="#133F99" stroke-width="0.9" stroke-linejoin="round"/>
<text transform="translate(367 150.75) matrix(1 0.004 0 1 0 0)" font-size="4.32" fill="#383838" text-anchor="end" stroke="#383838" stroke-width="0.14">0</text>
<text transform="translate(367 114.05) matrix(1 0.004 0 1 0 0)" font-size="4.32" fill="#383838" text-anchor="end" stroke="#383838" stroke-width="0.14">25000</text>
<text transform="translate(367 77.25) matrix(1 0.004 0 1 0 0)" font-size="4.32" fill="#383838" text-anchor="end" stroke="#383838" stroke-width="0.14">50000</text>
<text transform="translate(367 40.65) matrix(1 0.004 0 1 0 0)" font-size="4.32" fill="#383838" text-anchor="end" stroke="#383838" stroke-width="0.14">75000</text>
<text transform="translate(367 4.05) matrix(1 0.004 0 1 0 0)" font-size="4.32" fill="#383838" text-anchor="end" stroke="#383838" stroke-width="0.14">100000</text>
<text transform="translate(623.5 150.75) matrix(1 0.004 0 1 0 0)" font-size="4.32" fill="#383838" stroke="#383838" stroke-width="0.14">0</text>
<text transform="translate(623.5 114.05) matrix(1 0.004 0 1 0 0)" font-size="4.32" fill="#383838" stroke="#383838" stroke-width="0.14">1</text>
<text transform="translate(623.5 77.25) matrix(1 0.004 0 1 0 0)" font-size="4.32" fill="#383838" stroke="#383838" stroke-width="0.14">2</text>
<text transform="translate(623.5 40.65) matrix(1 0.004 0 1 0 0)" font-size="4.32" fill="#383838" stroke="#383838" stroke-width="0.14">3</text>
<text transform="translate(623.5 4.05) matrix(1 0.004 0 1 0 0)" font-size="4.32" fill="#383838" stroke="#383838" stroke-width="0.14">4</text>
<text transform="translate(383.21 161.55) matrix(1 0.004 0 1 0 0)" font-size="4.32" fill="#383838" text-anchor="middle" stroke="#383838" stroke-width="0.14">1990</text>
<text transform="translate(455.54 161.55) matrix(1 0.004 0 1 0 0)" font-size="4.32" fill="#383838" text-anchor="middle" stroke="#383838" stroke-width="0.14">2000</text>
<text transform="translate(527.88 161.55) matrix(1 0.004 0 1 0 0)" font-size="4.32" fill="#383838" text-anchor="middle" stroke="#383838" stroke-width="0.14">2010</text>
<text transform="translate(600.21 161.55) matrix(1 0.004 0 1 0 0)" font-size="4.32" fill="#383838" text-anchor="middle" stroke="#383838" stroke-width="0.14">2020</text>
<text transform="translate(495.15 167.65) matrix(1 0.004 0 1 0 0)" font-size="5.3" fill="#000000" text-anchor="middle">Year</text>
<text transform="translate(349.9 79) rotate(-90)" font-size="5.3" fill="#000000" text-anchor="middle">Incidence Number</text>
<text transform="translate(628.7 79) rotate(90)" font-size="5.3" fill="#000000" text-anchor="middle" textLength="106" lengthAdjust="spacingAndGlyphs">Age−standardized Incidence rate per 100,000</text>
<text transform="translate(640.1 62) matrix(1 0.004 0 1 0 0)" font-size="5.35" fill="#000000">Rate</text>
<line x1="640.9" x2="647.3" y1="69.4" y2="69.4" stroke="#133F99" stroke-width="1.05"/>
<text transform="translate(651 71) matrix(1 0.004 0 1 0 0)" font-size="4.32" fill="#000000">Testicular cancer</text>
<text transform="translate(640.1 88.4) matrix(1 0.004 0 1 0 0)" font-size="5.35" fill="#000000">Number</text>
<rect x="640.4" y="92" width="7.75" height="7.5" fill="#133F99"/>
<text transform="translate(651 97.2) matrix(1 0.004 0 1 0 0)" font-size="4.32" fill="#000000">Testicular cancer</text>
</g>
<g transform="translate(0,344.3)">
<text transform="translate(1.2 6.25) matrix(1 0.004 0 1 0 0)" font-size="7.0" fill="#000" font-weight="bold">E</text>
<line x1="24.3" x2="276.3" y1="134" y2="134" stroke="#eeeeee" stroke-width="0.5"/>
<line x1="24.3" x2="276.3" y1="103.7" y2="103.7" stroke="#eeeeee" stroke-width="0.5"/>
<line x1="24.3" x2="276.3" y1="73.5" y2="73.5" stroke="#eeeeee" stroke-width="0.5"/>
<line x1="24.3" x2="276.3" y1="43.2" y2="43.2" stroke="#eeeeee" stroke-width="0.5"/>
<line x1="24.3" x2="276.3" y1="13" y2="13" stroke="#eeeeee" stroke-width="0.5"/>
<line x1="74.62" x2="74.62" y1="1.3" y2="155.7" stroke="#eaeaea" stroke-width="0.5"/>
<line x1="146.87" x2="146.87" y1="1.3" y2="155.7" stroke="#eaeaea" stroke-width="0.5"/>
<line x1="219.12" x2="219.12" y1="1.3" y2="155.7" stroke="#eaeaea" stroke-width="0.5"/>
<line x1="24.3" x2="276.3" y1="149.1" y2="149.1" stroke="#ebebeb" stroke-width="0.5"/>
<line x1="24.3" x2="276.3" y1="118.85" y2="118.85" stroke="#ebebeb" stroke-width="0.5"/>
<line x1="24.3" x2="276.3" y1="88.6" y2="88.6" stroke="#ebebeb" stroke-width="0.5"/>
<line x1="24.3" x2="276.3" y1="58.35" y2="58.35" stroke="#ebebeb" stroke-width="0.5"/>
<line x1="24.3" x2="276.3" y1="28.1" y2="28.1" stroke="#ebebeb" stroke-width="0.5"/>
<line x1="38.5" x2="38.5" y1="1.3" y2="155.7" stroke="#e8e8e8" stroke-width="0.5"/>
<line x1="110.75" x2="110.75" y1="1.3" y2="155.7" stroke="#e8e8e8" stroke-width="0.5"/>
<line x1="183" x2="183" y1="1.3" y2="155.7" stroke="#e8e8e8" stroke-width="0.5"/>
<line x1="255.24" x2="255.24" y1="1.3" y2="155.7" stroke="#e8e8e8" stroke-width="0.5"/>
<rect x="35.97" y="85.2" width="5.06" height="63.9" fill="#F5A623"/>
<rect x="43.2" y="82.9" width="5.06" height="66.2" fill="#F5A623"/>
<rect x="50.42" y="80.4" width="5.06" height="68.7" fill="#F5A623"/>
<rect x="57.65" y="78.1" width="5.06" height="71" fill="#F5A623"/>
<rect x="64.87" y="75.7" width="5.06" height="73.4" fill="#F5A623"/>
<rect x="72.1" y="73.8" width="5.06" height="75.3" fill="#F5A623"/>
<rect x="79.32" y="72.1" width="5.06" height="77" fill="#F5A623"/>
<rect x="86.54" y="70.9" width="5.06" height="78.2" fill="#F5A623"/>
<rect x="93.77" y="69" width="5.06" height="80.1" fill="#F5A623"/>
<rect x="100.99" y="67.7" width="5.06" height="81.4" fill="#F5A623"/>
<rect x="108.22" y="65.8" width="5.06" height="83.3" fill="#F5A623"/>
<rect x="115.44" y="63.9" width="5.06" height="85.2" fill="#F5A623"/>
<rect x="122.67" y="61.6" width="5.06" height="87.5" fill="#F5A623"/>
<rect x="129.89" y="60.2" width="5.06" height="88.9" fill="#F5A623"/>
<rect x="137.12" y="58.7" width="5.06" height="90.4" fill="#F5A623"/>
<rect x="144.34" y="57.3" width="5.06" height="91.8" fill="#F5A623"/>
<rect x="151.57" y="55.9" width="5.06" height="93.2" fill="#F5A623"/>
<rect x="158.79" y="54.4" width="5.06" height="94.7" fill="#F5A623"/>
<rect x="166.02" y="52.1" width="5.06" height="97" fill="#F5A623"/>
<rect x="173.24" y="50.2" width="5.06" height="98.9" fill="#F5A623"/>
<rect x="180.47" y="48.3" width="5.06" height="100.8" fill="#F5A623"/>
<rect x="187.69" y="46.5" width="5.06" height="102.6" fill="#F5A623"/>
<rect x="194.92" y="44.9" width="5.06" height="104.2" fill="#F5A623"/>
<rect x="202.14" y="43" width="5.06" height="106.1" fill="#F5A623"/>
<rect x="209.37" y="39.8" width="5.06" height="109.3" fill="#F5A623"/>
<rect x="216.59" y="36.8" width="5.06" height="112.3" fill="#F5A623"/>
<rect x="223.82" y="32.6" width="5.06" height="116.5" fill="#F5A623"/>
<rect x="231.04" y="29.8" width="5.06" height="119.3" fill="#F5A623"/>
<rect x="238.27" y="26.3" width="5.06" height="122.8" fill="#F5A623"/>
<rect x="245.49" y="22.5" width="5.06" height="126.6" fill="#F5A623"/>
<rect x="252.72" y="20.3" width="5.06" height="128.8" fill="#F5A623"/>
<rect x="259.94" y="18.4" width="5.06" height="130.7" fill="#F5A623"/>
<path d="M37.49,81.3H39.51M37.49,89.9H39.51M38.5,81.3V89.9M37.49,149.1H39.51M44.71,78.93H46.74M44.71,87.96H46.74M45.72,78.93V87.96M44.71,149.1H46.74M51.94,76.36H53.96M51.94,85.81H53.96M52.95,76.36V85.81M51.94,149.1H53.96M59.16,73.97H61.19M59.16,83.86H61.19M60.17,73.97V83.86M59.16,149.1H61.19M66.39,71.49H68.41M66.39,81.79H68.41M67.4,71.49V81.79M66.39,149.1H68.41M73.61,69.5H75.64M73.61,80.22H75.64M74.62,69.5V80.22M73.61,149.1H75.64M80.84,67.7H82.86M80.84,78.84H82.86M81.85,67.7V78.84M80.84,149.1H82.86M88.06,66.41H90.09M88.06,77.95H90.09M89.07,66.41V77.95M88.06,149.1H90.09M95.29,64.4H97.31M95.29,76.35H97.31M96.3,64.4V76.35M95.29,149.1H97.31M102.51,63H104.53M102.51,75.35H104.53M103.52,63V75.35M102.51,149.1H104.53M109.74,60.99H111.76M109.74,73.74H111.76M110.75,60.99V73.74M109.74,149.1H111.76M116.96,58.98H118.98M116.96,72.12H118.98M117.97,58.98V72.12M116.96,149.1H118.98M124.19,56.56H126.21M124.19,70.1H126.21M125.2,56.56V70.1M124.19,149.1H126.21M131.41,55.04H133.43M131.41,68.96H133.43M132.42,55.04V68.96M131.41,149.1H133.43M138.64,53.4H140.66M138.64,67.69H140.66M139.65,53.4V67.69M138.64,149.1H140.66M145.86,51.86H147.88M145.86,66.53H147.88M146.87,51.86V66.53M145.86,149.1H147.88M153.09,50.3H155.11M153.09,65.4H155.11M154.1,50.3V65.4M153.09,149.1H155.11M160.31,48.62H162.33M160.31,64.21H162.33M161.32,48.62V64.21M160.31,149.1H162.33M167.53,46.11H169.56M167.53,62.26H169.56M168.55,46.11V62.26M167.53,149.1H169.56M174.76,43.99H176.78M174.76,60.73H176.78M175.77,43.99V60.73M174.76,149.1H176.78M181.98,41.84H184.01M181.98,59.21H184.01M183,41.84V59.21M181.98,149.1H184.01M189.21,39.79H191.23M189.21,57.81H191.23M190.22,39.79V57.81M189.21,149.1H191.23M196.43,37.93H198.46M196.43,56.61H198.46M197.45,37.93V56.61M196.43,149.1H198.46M203.66,35.76H205.68M203.66,55.11H205.68M204.67,35.76V55.11M203.66,149.1H205.68M210.88,32.3H212.91M210.88,52.3H212.91M211.9,32.3V52.3M210.88,149.1H212.91M218.11,29.04H220.13M218.11,49.68H220.13M219.12,29.04V49.68M218.11,149.1H220.13M225.33,24.56H227.36M225.33,45.86H227.36M226.34,24.56V45.86M225.33,149.1H227.36M232.56,21.48H234.58M232.56,43.45H234.58M233.57,21.48V43.45M232.56,149.1H234.58M239.78,17.7H241.81M239.78,40.33H241.81M240.79,17.7V40.33M239.78,149.1H241.81M247.01,13.6H249.03M247.01,36.92H249.03M248.02,13.6V36.92M247.01,149.1H249.03M254.23,11.11H256.26M254.23,35.11H256.26M255.24,11.11V35.11M254.23,149.1H256.26M261.46,8.9H263.48M261.46,33.6H263.48M262.47,8.9V33.6M261.46,149.1H263.48" stroke="#1a1a1a" stroke-width="0.55" fill="none"/>
<polygon points="38.5,18.4 45.72,16.7 52.95,15.37 60.17,14.51 67.4,14.2 74.62,14.44 81.85,15.04 89.07,15.8 96.3,16.5 103.52,17.07 110.75,17.8 117.97,19.23 125.2,21.1 132.42,23.04 139.65,25.15 146.87,27.31 154.1,29.4 161.32,31.43 168.55,33.44 175.77,35.39 183,37.2 190.22,39.04 197.45,40.9 204.67,42.45 211.9,43.4 219.12,43.91 226.34,44.36 233.57,44.75 240.79,45.07 248.02,45.3 255.24,45.45 262.47,45.5 262.47,63 255.24,62.49 248.02,61.97 240.79,61.42 233.57,60.86 226.34,60.29 219.12,59.7 211.9,59.1 204.67,58.52 197.45,57.94 190.22,57.29 183,56.5 175.77,55.44 168.55,54.11 161.32,52.59 154.1,51 146.87,49.28 139.65,47.37 132.42,45.37 125.2,43.4 117.97,41.3 110.75,39.5 103.52,38.49 96.3,37.5 89.07,35.68 81.85,34 74.62,33.05 67.4,32.6 60.17,33.04 52.95,33.8 45.72,34.47 38.5,35.2" fill="#F5A623" fill-opacity="0.22"/>
<polyline points="38.5,25 45.72,23.64 52.95,22.5 60.17,21.4 67.4,20.8 74.62,21.13 81.85,21.8 89.07,22.82 96.3,24 103.52,24.91 110.75,25.8 117.97,26.7 125.2,27.8 132.42,29.71 139.65,32 146.87,34.13 154.1,36.2 161.32,38.12 168.55,39.9 175.77,41.52 183,43 190.22,44.36 197.45,45.6 204.67,46.67 211.9,47.7 219.12,48.85 226.34,49.9 233.57,50.67 240.79,51.4 248.02,52.22 255.24,53.09 262.47,54" fill="none" stroke="#F5A623" stroke-width="1.25" stroke-linejoin="round"/>
<text transform="translate(22.3 150.75) matrix(1 0.004 0 1 0 0)" font-size="4.32" fill="#383838" text-anchor="end" stroke="#383838" stroke-width="0.14">0</text>
<text transform="translate(22.3 120.5) matrix(1 0.004 0 1 0 0)" font-size="4.32" fill="#383838" text-anchor="end" stroke="#383838" stroke-width="0.14">100000</text>
<text transform="translate(22.3 90.25) matrix(1 0.004 0 1 0 0)" font-size="4.32" fill="#383838" text-anchor="end" stroke="#383838" stroke-width="0.14">200000</text>
<text transform="translate(22.3 60) matrix(1 0.004 0 1 0 0)" font-size="4.32" fill="#383838" text-anchor="end" stroke="#383838" stroke-width="0.14">300000</text>
<text transform="translate(22.3 29.75) matrix(1 0.004 0 1 0 0)" font-size="4.32" fill="#383838" text-anchor="end" stroke="#383838" stroke-width="0.14">400000</text>
<text transform="translate(278.5 150.75) matrix(1 0.004 0 1 0 0)" font-size="4.32" fill="#383838" stroke="#383838" stroke-width="0.14">0</text>
<text transform="translate(278.5 112.95) matrix(1 0.004 0 1 0 0)" font-size="4.32" fill="#383838" stroke="#383838" stroke-width="0.14">5</text>
<text transform="translate(278.5 75.15) matrix(1 0.004 0 1 0 0)" font-size="4.32" fill="#383838" stroke="#383838" stroke-width="0.14">10</text>
<text transform="translate(278.5 37.35) matrix(1 0.004 0 1 0 0)" font-size="4.32" fill="#383838" stroke="#383838" stroke-width="0.14">15</text>
<text transform="translate(38.5 161.55) matrix(1 0.004 0 1 0 0)" font-size="4.32" fill="#383838" text-anchor="middle" stroke="#383838" stroke-width="0.14">1990</text>
<text transform="translate(110.75 161.55) matrix(1 0.004 0 1 0 0)" font-size="4.32" fill="#383838" text-anchor="middle" stroke="#383838" stroke-width="0.14">2000</text>
<text transform="translate(183 161.55) matrix(1 0.004 0 1 0 0)" font-size="4.32" fill="#383838" text-anchor="middle" stroke="#383838" stroke-width="0.14">2010</text>
<text transform="translate(255.24 161.55) matrix(1 0.004 0 1 0 0)" font-size="4.32" fill="#383838" text-anchor="middle" stroke="#383838" stroke-width="0.14">2020</text>
<text transform="translate(150.3 167.65) matrix(1 0.004 0 1 0 0)" font-size="5.3" fill="#000000" text-anchor="middle">Year</text>
<text transform="translate(5.3 79) rotate(-90)" font-size="5.3" fill="#000000" text-anchor="middle">Deaths Number</text>
<text transform="translate(285.8 79) rotate(90)" font-size="5.3" fill="#000000" text-anchor="middle" textLength="104" lengthAdjust="spacingAndGlyphs">Age−standardized Mortality rate per 100,000</text>
<text transform="translate(297.6 62) matrix(1 0.004 0 1 0 0)" font-size="5.35" fill="#000000">Rate</text>
<line x1="298.4" x2="304.8" y1="70.2" y2="70.2" stroke="#F5A623" stroke-width="1.05"/>
<text transform="translate(308.5 71) matrix(1 0.004 0 1 0 0)" font-size="4.32" fill="#000000">Prostate cancer</text>
<text transform="translate(297.6 88.4) matrix(1 0.004 0 1 0 0)" font-size="5.35" fill="#000000">Number</text>
<rect x="297.9" y="92" width="7.75" height="7.5" fill="#F5A623"/>
<text transform="translate(308.5 97.2) matrix(1 0.004 0 1 0 0)" font-size="4.32" fill="#000000">Prostate cancer</text>
</g>
<g transform="translate(0,344.3)">
<text transform="translate(345.8 6.25) matrix(1 0.004 0 1 0 0)" font-size="7.0" fill="#000" font-weight="bold">F</text>
<line x1="366.5" x2="617.8" y1="134.6" y2="134.6" stroke="#eeeeee" stroke-width="0.5"/>
<line x1="366.5" x2="617.8" y1="105.5" y2="105.5" stroke="#eeeeee" stroke-width="0.5"/>
<line x1="366.5" x2="617.8" y1="76.5" y2="76.5" stroke="#eeeeee" stroke-width="0.5"/>
<line x1="366.5" x2="617.8" y1="47.5" y2="47.5" stroke="#eeeeee" stroke-width="0.5"/>
<line x1="366.5" x2="617.8" y1="18.4" y2="18.4" stroke="#eeeeee" stroke-width="0.5"/>
<line x1="416.68" x2="416.68" y1="1.3" y2="155.7" stroke="#eaeaea" stroke-width="0.5"/>
<line x1="488.73" x2="488.73" y1="1.3" y2="155.7" stroke="#eaeaea" stroke-width="0.5"/>
<line x1="560.78" x2="560.78" y1="1.3" y2="155.7" stroke="#eaeaea" stroke-width="0.5"/>
<line x1="366.5" x2="617.8" y1="149.1" y2="149.1" stroke="#ebebeb" stroke-width="0.5"/>
<line x1="366.5" x2="617.8" y1="120.1" y2="120.1" stroke="#ebebeb" stroke-width="0.5"/>
<line x1="366.5" x2="617.8" y1="91" y2="91" stroke="#ebebeb" stroke-width="0.5"/>
<line x1="366.5" x2="617.8" y1="62" y2="62" stroke="#ebebeb" stroke-width="0.5"/>
<line x1="366.5" x2="617.8" y1="33" y2="33" stroke="#ebebeb" stroke-width="0.5"/>
<line x1="366.5" x2="617.8" y1="3.6" y2="3.6" stroke="#ebebeb" stroke-width="0.5"/>
<line x1="380.66" x2="380.66" y1="1.3" y2="155.7" stroke="#e8e8e8" stroke-width="0.5"/>
<line x1="452.71" x2="452.71" y1="1.3" y2="155.7" stroke="#e8e8e8" stroke-width="0.5"/>
<line x1="524.75" x2="524.75" y1="1.3" y2="155.7" stroke="#e8e8e8" stroke-width="0.5"/>
<line x1="596.8" x2="596.8" y1="1.3" y2="155.7" stroke="#e8e8e8" stroke-width="0.5"/>
<rect x="378.14" y="61.1" width="5.04" height="88" fill="#133F99"/>
<rect x="385.34" y="60.5" width="5.04" height="88.6" fill="#133F99"/>
<rect x="392.55" y="60.1" width="5.04" height="89" fill="#133F99"/>
<rect x="399.75" y="59.2" width="5.04" height="89.9" fill="#133F99"/>
<rect x="406.96" y="58.8" width="5.04" height="90.3" fill="#133F99"/>
<rect x="414.16" y="57.3" width="5.04" height="91.8" fill="#133F99"/>
<rect x="421.37" y="55.4" width="5.04" height="93.7" fill="#133F99"/>
<rect x="428.57" y="54.8" width="5.04" height="94.3" fill="#133F99"/>
<rect x="435.78" y="54" width="5.04" height="95.1" fill="#133F99"/>
<rect x="442.98" y="52.5" width="5.04" height="96.6" fill="#133F99"/>
<rect x="450.19" y="51.2" width="5.04" height="97.9" fill="#133F99"/>
<rect x="457.39" y="51.6" width="5.04" height="97.5" fill="#133F99"/>
<rect x="464.59" y="51" width="5.04" height="98.1" fill="#133F99"/>
<rect x="471.8" y="49.7" width="5.04" height="99.4" fill="#133F99"/>
<rect x="479" y="49.3" width="5.04" height="99.8" fill="#133F99"/>
<rect x="486.21" y="49.3" width="5.04" height="99.8" fill="#133F99"/>
<rect x="493.41" y="49.3" width="5.04" height="99.8" fill="#133F99"/>
<rect x="500.62" y="49.3" width="5.04" height="99.8" fill="#133F99"/>
<rect x="507.82" y="48.3" width="5.04" height="100.8" fill="#133F99"/>
<rect x="515.03" y="46.3" width="5.04" height="102.8" fill="#133F99"/>
<rect x="522.23" y="44.9" width="5.04" height="104.2" fill="#133F99"/>
<rect x="529.44" y="42.7" width="5.04" height="106.4" fill="#133F99"/>
<rect x="536.64" y="39.6" width="5.04" height="109.5" fill="#133F99"/>
<rect x="543.85" y="37.3" width="5.04" height="111.8" fill="#133F99"/>
<rect x="551.05" y="33.5" width="5.04" height="115.6" fill="#133F99"/>
<rect x="558.26" y="31.1" width="5.04" height="118" fill="#133F99"/>
<rect x="565.46" y="27.8" width="5.04" height="121.3" fill="#133F99"/>
<rect x="572.67" y="24" width="5.04" height="125.1" fill="#133F99"/>
<rect x="579.87" y="20.6" width="5.04" height="128.5" fill="#133F99"/>
<rect x="587.07" y="17.3" width="5.04" height="131.8" fill="#133F99"/>
<rect x="594.28" y="17.8" width="5.04" height="131.3" fill="#133F99"/>
<rect x="601.48" y="16.8" width="5.04" height="132.3" fill="#133F99"/>
<path d="M379.65,55.4H381.67M379.65,65.5H381.67M380.66,55.4V65.5M379.65,149.1H381.67M386.86,54.92H388.87M386.86,64.78H388.87M387.86,54.92V64.78M386.86,149.1H388.87M394.06,54.63H396.08M394.06,64.26H396.08M395.07,54.63V64.26M394.06,149.1H396.08M401.27,53.83H403.28M401.27,63.24H403.28M402.27,53.83V63.24M401.27,149.1H403.28M408.47,53.52H410.49M408.47,62.72H410.49M409.48,53.52V62.72M408.47,149.1H410.49M415.67,52.1H417.69M415.67,61.1H417.69M416.68,52.1V61.1M415.67,149.1H417.69M422.88,50.27H424.9M422.88,59.08H424.9M423.89,50.27V59.08M422.88,149.1H424.9M430.08,49.73H432.1M430.08,58.36H432.1M431.09,49.73V58.36M430.08,149.1H432.1M437.29,48.98H439.31M437.29,57.44H439.31M438.3,48.98V57.44M437.29,149.1H439.31M444.49,47.54H446.51M444.49,55.82H446.51M445.5,47.54V55.82M444.49,149.1H446.51M451.7,46.3H453.72M451.7,54.4H453.72M452.71,46.3V54.4M451.7,149.1H453.72M458.9,46.78H460.92M458.9,54.64H460.92M459.91,46.78V54.64M458.9,149.1H460.92M466.11,46.26H468.13M466.11,53.88H468.13M467.12,46.26V53.88M466.11,149.1H468.13M473.31,45H475.33M473.31,52.5H475.33M474.32,45V52.5M473.31,149.1H475.33M480.52,44.6H482.53M480.52,52.11H482.53M481.53,44.6V52.11M480.52,149.1H482.53M487.72,44.6H489.74M487.72,52.14H489.74M488.73,44.6V52.14M487.72,149.1H489.74M494.93,44.6H496.94M494.93,52.19H496.94M495.94,44.6V52.19M494.93,149.1H496.94M502.13,44.6H504.15M502.13,52.26H504.15M503.14,44.6V52.26M502.13,149.1H504.15M509.34,43.6H511.35M509.34,51.33H511.35M510.34,43.6V51.33M509.34,149.1H511.35M516.54,41.6H518.56M516.54,49.41H518.56M517.55,41.6V49.41M516.54,149.1H518.56M523.75,40.2H525.76M523.75,48.1H525.76M524.75,40.2V48.1M523.75,149.1H525.76M530.95,37.95H532.97M530.95,46.01H532.97M531.96,37.95V46.01M530.95,149.1H532.97M538.15,34.72H540.17M538.15,43.05H540.17M539.16,34.72V43.05M538.15,149.1H540.17M545.36,32.24H547.38M545.36,40.91H547.38M546.37,32.24V40.91M545.36,149.1H547.38M552.56,28.22H554.58M552.56,37.3H554.58M553.57,28.22V37.3M552.56,149.1H554.58M559.77,25.6H561.79M559.77,35.1H561.79M560.78,25.6V35.1M559.77,149.1H561.79M566.97,22.1H568.99M566.97,32.01H568.99M567.98,22.1V32.01M566.97,149.1H568.99M574.18,18.06H576.2M574.18,28.46H576.2M575.19,18.06V28.46M574.18,149.1H576.2M581.38,14.33H583.4M581.38,25.35H583.4M582.39,14.33V25.35M581.38,149.1H583.4M588.59,10.5H590.6M588.59,22.4H590.6M589.6,10.5V22.4M588.59,149.1H590.6M595.79,9.1H597.81M595.79,23.42H597.81M596.8,9.1V23.42M595.79,149.1H597.81M603,8.8H605.01M603,23.1H605.01M604.01,8.8V23.1M603,149.1H605.01" stroke="#000" stroke-width="0.62" fill="none"/>
<polygon points="380.66,46.5 387.86,48.65 395.07,50.5 402.27,52.05 409.48,53.4 416.68,54.42 423.89,55.4 431.09,56.51 438.3,57.2 445.5,57.9 452.71,58.61 459.91,59.06 467.12,59.62 474.32,60.92 481.53,63.06 488.73,65.03 495.94,66.13 503.14,66.74 510.34,66.93 517.55,66.95 524.75,66.54 531.96,65.86 539.16,65.1 546.37,64.27 553.57,63.38 560.78,62.57 567.98,61.98 575.19,61.48 582.39,61 589.6,60.69 596.8,60.84 604.01,61.4 604.01,69 596.8,68.25 589.6,67.91 582.39,68.02 575.19,68.32 567.98,68.62 560.78,69.03 553.57,69.64 546.37,70.33 539.16,70.98 531.96,71.54 524.75,72.03 517.55,72.25 510.34,72.04 503.14,71.66 495.94,70.86 488.73,69.57 481.53,67.41 474.32,65.08 467.12,63.58 459.91,62.84 452.71,62.19 445.5,61.3 438.3,60.4 431.09,59.92 423.89,59.58 416.68,59.37 409.48,59.12 402.27,58.54 395.07,57.76 387.86,56.68 380.66,55.3" fill="#133F99" fill-opacity="0.22"/>
<polyline points="380.66,52 387.86,53.6 395.07,54.9 402.27,55.9 409.48,56.7 416.68,57.17 423.89,57.6 431.09,58.16 438.3,58.8 445.5,59.6 452.71,60.4 459.91,60.95 467.12,61.6 474.32,63 481.53,65.23 488.73,67.3 495.94,68.5 503.14,69.2 510.34,69.48 517.55,69.6 524.75,69.29 531.96,68.7 539.16,68.04 546.37,67.3 553.57,66.51 560.78,65.8 567.98,65.3 575.19,64.9 582.39,64.51 589.6,64.3 596.8,64.54 604.01,65.2" fill="none" stroke="#133F99" stroke-width="0.9" stroke-linejoin="round"/>
<text transform="translate(364.5 150.75) matrix(1 0.004 0 1 0 0)" font-size="4.32" fill="#383838" text-anchor="end" stroke="#383838" stroke-width="0.14">0</text>
<text transform="translate(364.5 121.75) matrix(1 0.004 0 1 0 0)" font-size="4.32" fill="#383838" text-anchor="end" stroke="#383838" stroke-width="0.14">2500</text>
<text transform="translate(364.5 92.65) matrix(1 0.004 0 1 0 0)" font-size="4.32" fill="#383838" text-anchor="end" stroke="#383838" stroke-width="0.14">5000</text>
<text transform="translate(364.5 63.65) matrix(1 0.004 0 1 0 0)" font-size="4.32" fill="#383838" text-anchor="end" stroke="#383838" stroke-width="0.14">7500</text>
<text transform="translate(364.5 34.65) matrix(1 0.004 0 1 0 0)" font-size="4.32" fill="#383838" text-anchor="end" stroke="#383838" stroke-width="0.14">10000</text>
<text transform="translate(364.5 5.25) matrix(1 0.004 0 1 0 0)" font-size="4.32" fill="#383838" text-anchor="end" stroke="#383838" stroke-width="0.14">12500</text>
<text transform="translate(620 150.75) matrix(1 0.004 0 1 0 0)" font-size="4.32" fill="#383838" stroke="#383838" stroke-width="0.14">0.0</text>
<text transform="translate(620 121.75) matrix(1 0.004 0 1 0 0)" font-size="4.32" fill="#383838" stroke="#383838" stroke-width="0.14">0.1</text>
<text transform="translate(620 92.65) matrix(1 0.004 0 1 0 0)" font-size="4.32" fill="#383838" stroke="#383838" stroke-width="0.14">0.2</text>
<text transform="translate(620 63.65) matrix(1 0.004 0 1 0 0)" font-size="4.32" fill="#383838" stroke="#383838" stroke-width="0.14">0.3</text>
<text transform="translate(620 34.65) matrix(1 0.004 0 1 0 0)" font-size="4.32" fill="#383838" stroke="#383838" stroke-width="0.14">0.4</text>
<text transform="translate(620 5.25) matrix(1 0.004 0 1 0 0)" font-size="4.32" fill="#383838" stroke="#383838" stroke-width="0.14">0.5</text>
<text transform="translate(380.66 161.55) matrix(1 0.004 0 1 0 0)" font-size="4.32" fill="#383838" text-anchor="middle" stroke="#383838" stroke-width="0.14">1990</text>
<text transform="translate(452.71 161.55) matrix(1 0.004 0 1 0 0)" font-size="4.32" fill="#383838" text-anchor="middle" stroke="#383838" stroke-width="0.14">2000</text>
<text transform="translate(524.75 161.55) matrix(1 0.004 0 1 0 0)" font-size="4.32" fill="#383838" text-anchor="middle" stroke="#383838" stroke-width="0.14">2010</text>
<text transform="translate(596.8 161.55) matrix(1 0.004 0 1 0 0)" font-size="4.32" fill="#383838" text-anchor="middle" stroke="#383838" stroke-width="0.14">2020</text>
<text transform="translate(492.15 167.65) matrix(1 0.004 0 1 0 0)" font-size="5.3" fill="#000000" text-anchor="middle">Year</text>
<text transform="translate(349.9 79) rotate(-90)" font-size="5.3" fill="#000000" text-anchor="middle">Deaths Number</text>
<text transform="translate(628.7 79) rotate(90)" font-size="5.3" fill="#000000" text-anchor="middle" textLength="104" lengthAdjust="spacingAndGlyphs">Age−standardized Mortality rate per 100,000</text>
<text transform="translate(640.1 62) matrix(1 0.004 0 1 0 0)" font-size="5.35" fill="#000000">Rate</text>
<line x1="640.9" x2="647.3" y1="70.2" y2="70.2" stroke="#133F99" stroke-width="1.05"/>
<text transform="translate(651 71) matrix(1 0.004 0 1 0 0)" font-size="4.32" fill="#000000">Testicular cancer</text>
<text transform="translate(640.1 88.4) matrix(1 0.004 0 1 0 0)" font-size="5.35" fill="#000000">Number</text>
<rect x="640.4" y="92" width="7.75" height="7.5" fill="#133F99"/>
<text transform="translate(651 97.2) matrix(1 0.004 0 1 0 0)" font-size="4.32" fill="#000000">Testicular cancer</text>
</g>
<g transform="translate(0,516.4)">
<text transform="translate(1.2 6.25) matrix(1 0.004 0 1 0 0)" font-size="7.0" fill="#000" font-weight="bold">G</text>
<line x1="26.7" x2="274" y1="129.3" y2="129.3" stroke="#eeeeee" stroke-width="0.5"/>
<line x1="26.7" x2="274" y1="89.6" y2="89.6" stroke="#eeeeee" stroke-width="0.5"/>
<line x1="26.7" x2="274" y1="49.8" y2="49.8" stroke="#eeeeee" stroke-width="0.5"/>
<line x1="26.7" x2="274" y1="10" y2="10" stroke="#eeeeee" stroke-width="0.5"/>
<line x1="76.08" x2="76.08" y1="1.3" y2="155.7" stroke="#eaeaea" stroke-width="0.5"/>
<line x1="146.98" x2="146.98" y1="1.3" y2="155.7" stroke="#eaeaea" stroke-width="0.5"/>
<line x1="217.88" x2="217.88" y1="1.3" y2="155.7" stroke="#eaeaea" stroke-width="0.5"/>
<line x1="26.7" x2="274" y1="149.2" y2="149.2" stroke="#ebebeb" stroke-width="0.5"/>
<line x1="26.7" x2="274" y1="109.5" y2="109.5" stroke="#ebebeb" stroke-width="0.5"/>
<line x1="26.7" x2="274" y1="69.7" y2="69.7" stroke="#ebebeb" stroke-width="0.5"/>
<line x1="26.7" x2="274" y1="29.8" y2="29.8" stroke="#ebebeb" stroke-width="0.5"/>
<line x1="40.63" x2="40.63" y1="1.3" y2="155.7" stroke="#e8e8e8" stroke-width="0.5"/>
<line x1="111.53" x2="111.53" y1="1.3" y2="155.7" stroke="#e8e8e8" stroke-width="0.5"/>
<line x1="182.43" x2="182.43" y1="1.3" y2="155.7" stroke="#e8e8e8" stroke-width="0.5"/>
<line x1="253.33" x2="253.33" y1="1.3" y2="155.7" stroke="#e8e8e8" stroke-width="0.5"/>
<rect x="38.15" y="83.6" width="4.96" height="65.6" fill="#F5A623"/>
<rect x="45.24" y="81.5" width="4.96" height="67.7" fill="#F5A623"/>
<rect x="52.33" y="78.8" width="4.96" height="70.4" fill="#F5A623"/>
<rect x="59.42" y="76.7" width="4.96" height="72.5" fill="#F5A623"/>
<rect x="66.51" y="74.4" width="4.96" height="74.8" fill="#F5A623"/>
<rect x="73.6" y="72.8" width="4.96" height="76.4" fill="#F5A623"/>
<rect x="80.69" y="71" width="4.96" height="78.2" fill="#F5A623"/>
<rect x="87.78" y="69.7" width="4.96" height="79.5" fill="#F5A623"/>
<rect x="94.87" y="67.6" width="4.96" height="81.6" fill="#F5A623"/>
<rect x="101.96" y="66.2" width="4.96" height="83" fill="#F5A623"/>
<rect x="109.05" y="64.7" width="4.96" height="84.5" fill="#F5A623"/>
<rect x="116.14" y="62.8" width="4.96" height="86.4" fill="#F5A623"/>
<rect x="123.23" y="60.7" width="4.96" height="88.5" fill="#F5A623"/>
<rect x="130.32" y="59.3" width="4.96" height="89.9" fill="#F5A623"/>
<rect x="137.41" y="58" width="4.96" height="91.2" fill="#F5A623"/>
<rect x="144.5" y="56.6" width="4.96" height="92.6" fill="#F5A623"/>
<rect x="151.59" y="55.3" width="4.96" height="93.9" fill="#F5A623"/>
<rect x="158.68" y="53.4" width="4.96" height="95.8" fill="#F5A623"/>
<rect x="165.77" y="51.5" width="4.96" height="97.7" fill="#F5A623"/>
<rect x="172.86" y="49.6" width="4.96" height="99.6" fill="#F5A623"/>
<rect x="179.95" y="48.1" width="4.96" height="101.1" fill="#F5A623"/>
<rect x="187.04" y="46.4" width="4.96" height="102.8" fill="#F5A623"/>
<rect x="194.13" y="44.8" width="4.96" height="104.4" fill="#F5A623"/>
<rect x="201.22" y="43.9" width="4.96" height="105.3" fill="#F5A623"/>
<rect x="208.31" y="40.7" width="4.96" height="108.5" fill="#F5A623"/>
<rect x="215.4" y="37.6" width="4.96" height="111.6" fill="#F5A623"/>
<rect x="222.49" y="33.8" width="4.96" height="115.4" fill="#F5A623"/>
<rect x="229.58" y="31.2" width="4.96" height="118" fill="#F5A623"/>
<rect x="236.67" y="27.8" width="4.96" height="121.4" fill="#F5A623"/>
<rect x="243.76" y="24" width="4.96" height="125.2" fill="#F5A623"/>
<rect x="250.85" y="21.7" width="4.96" height="127.5" fill="#F5A623"/>
<rect x="257.94" y="19.8" width="4.96" height="129.4" fill="#F5A623"/>
<path d="M39.64,79H41.62M39.64,88.8H41.62M40.63,79V88.8M39.64,149.2H41.62M46.73,76.82H48.71M46.73,87.05H48.71M47.72,76.82V87.05M46.73,149.2H48.71M53.82,74.04H55.8M53.82,84.7H55.8M54.81,74.04V84.7M53.82,149.2H55.8M60.91,71.86H62.89M60.91,82.94H62.89M61.9,71.86V82.94M60.91,149.2H62.89M68,69.47H69.98M68,80.97H69.98M68.99,69.47V80.97M68,149.2H69.98M75.09,67.78H77.07M75.09,79.71H77.07M76.08,67.78V79.71M75.09,149.2H77.07M82.18,65.89H84.16M82.18,78.24H84.16M83.17,65.89V78.24M82.18,149.2H84.16M89.27,64.5H91.25M89.27,77.26H91.25M90.26,64.5V77.26M89.27,149.2H91.25M96.36,62.3H98.34M96.36,75.48H98.34M97.35,62.3V75.48M96.36,149.2H98.34M103.45,60.8H105.43M103.45,74.4H105.43M104.44,60.8V74.4M103.45,149.2H105.43M110.54,59.2H112.52M110.54,73.21H112.52M111.53,59.2V73.21M110.54,149.2H112.52M117.63,57.2H119.61M117.63,71.62H119.61M118.62,57.2V71.62M117.63,149.2H119.61M124.72,55H126.7M124.72,69.82H126.7M125.71,55V69.82M124.72,149.2H126.7M131.81,53.49H133.79M131.81,68.72H133.79M132.8,53.49V68.72M131.81,149.2H133.79M138.9,52.08H140.88M138.9,67.72H140.88M139.89,52.08V67.72M138.9,149.2H140.88M145.99,50.55H147.97M145.99,66.61H147.97M146.98,50.55V66.61M145.99,149.2H147.97M153.08,49.1H155.06M153.08,65.6H155.06M154.07,49.1V65.6M153.08,149.2H155.06M160.17,47.03H162.15M160.17,63.98H162.15M161.16,47.03V63.98M160.17,149.2H162.15M167.26,44.93H169.24M167.26,62.35H169.24M168.25,44.93V62.35M167.26,149.2H169.24M174.35,42.8H176.33M174.35,60.71H176.33M175.34,42.8V60.71M174.35,149.2H176.33M181.44,41.05H183.42M181.44,59.46H183.42M182.43,41.05V59.46M181.44,149.2H183.42M188.53,39.09H190.51M188.53,58.03H190.51M189.52,39.09V58.03M188.53,149.2H190.51M195.62,37.2H197.6M195.62,56.7H197.6M196.61,37.2V56.7M195.62,149.2H197.6M202.71,36.01H204.69M202.71,56.09H204.69M203.7,36.01V56.09M202.71,149.2H204.69M209.8,32.5H211.78M209.8,53.2H211.78M210.79,32.5V53.2M209.8,149.2H211.78M216.89,29.08H218.87M216.89,50.43H218.87M217.88,29.08V50.43M216.89,149.2H218.87M223.98,24.92H225.96M223.98,46.99H225.96M224.97,24.92V46.99M223.98,149.2H225.96M231.07,21.94H233.05M231.07,44.76H233.05M232.06,21.94V44.76M231.07,149.2H233.05M238.16,18.14H240.14M238.16,41.75H240.14M239.15,18.14V41.75M238.16,149.2H240.14M245.25,13.91H247.23M245.25,38.35H247.23M246.24,13.91V38.35M245.25,149.2H247.23M252.34,11.16H254.32M252.34,36.47H254.32M253.33,11.16V36.47M252.34,149.2H254.32M259.43,8.8H261.41M259.43,35H261.41M260.42,8.8V35M259.43,149.2H261.41" stroke="#1a1a1a" stroke-width="0.55" fill="none"/>
<polygon points="40.63,32.9 47.72,31.66 54.81,30.68 61.9,30.03 68.99,29.8 76.08,29.96 83.17,30.4 90.26,31.06 97.35,31.87 104.44,32.77 111.53,33.7 118.62,34.89 125.71,36.3 132.8,37.68 139.89,39.11 146.98,40.56 154.07,42 161.16,43.48 168.25,44.99 175.34,46.44 182.43,47.7 189.52,48.83 196.61,49.88 203.7,50.79 210.79,51.5 217.88,52.08 224.97,52.63 232.06,53.14 239.15,53.58 246.24,53.93 253.33,54.18 260.42,54.3 260.42,71.4 253.33,71.32 246.24,71.1 239.15,70.76 232.06,70.32 224.97,69.8 217.88,69.22 210.79,68.6 203.7,67.77 196.61,66.62 189.52,65.26 182.43,63.8 175.34,62.01 168.25,59.88 161.16,57.8 154.07,56.2 146.98,55.17 139.89,54.38 132.8,53.6 125.71,52.6 118.62,50.98 111.53,49.4 104.44,48.28 97.35,47.19 90.26,46.21 83.17,45.42 76.08,44.89 68.99,44.7 61.9,45 54.81,45.84 47.72,47.11 40.63,48.7" fill="#F5A623" fill-opacity="0.22"/>
<polyline points="40.63,39.5 47.72,38.04 54.81,36.98 61.9,36.32 68.99,36.1 76.08,36.33 83.17,36.8 90.26,37.51 97.35,38.53 104.44,39.69 111.53,40.8 118.62,41.81 125.71,42.9 132.8,44.19 139.89,45.63 146.98,47.13 154.07,48.6 161.16,50.02 168.25,51.44 175.34,52.87 182.43,54.3 189.52,55.82 196.61,57.2 203.7,58.31 210.79,59.1 217.88,59.52 224.97,59.81 232.06,60.07 239.15,60.4 246.24,60.84 253.33,61.34 260.42,61.9" fill="none" stroke="#F5A623" stroke-width="1.25" stroke-linejoin="round"/>
<text transform="translate(24.7 150.85) matrix(1 0.004 0 1 0 0)" font-size="4.32" fill="#383838" text-anchor="end" stroke="#383838" stroke-width="0.14">0</text>
<text transform="translate(24.7 111.15) matrix(1 0.004 0 1 0 0)" font-size="4.32" fill="#383838" text-anchor="end" stroke="#383838" stroke-width="0.14">2500000</text>
<text transform="translate(24.7 71.35) matrix(1 0.004 0 1 0 0)" font-size="4.32" fill="#383838" text-anchor="end" stroke="#383838" stroke-width="0.14">5000000</text>
<text transform="translate(24.7 31.45) matrix(1 0.004 0 1 0 0)" font-size="4.32" fill="#383838" text-anchor="end" stroke="#383838" stroke-width="0.14">7500000</text>
<text transform="translate(276.2 150.85) matrix(1 0.004 0 1 0 0)" font-size="4.32" fill="#383838" stroke="#383838" stroke-width="0.14">0</text>
<text transform="translate(276.2 111.05) matrix(1 0.004 0 1 0 0)" font-size="4.32" fill="#383838" stroke="#383838" stroke-width="0.14">100</text>
<text transform="translate(276.2 71.25) matrix(1 0.004 0 1 0 0)" font-size="4.32" fill="#383838" stroke="#383838" stroke-width="0.14">200</text>
<text transform="translate(276.2 31.45) matrix(1 0.004 0 1 0 0)" font-size="4.32" fill="#383838" stroke="#383838" stroke-width="0.14">300</text>
<text transform="translate(40.63 161.55) matrix(1 0.004 0 1 0 0)" font-size="4.32" fill="#383838" text-anchor="middle" stroke="#383838" stroke-width="0.14">1990</text>
<text transform="translate(111.53 161.55) matrix(1 0.004 0 1 0 0)" font-size="4.32" fill="#383838" text-anchor="middle" stroke="#383838" stroke-width="0.14">2000</text>
<text transform="translate(182.43 161.55) matrix(1 0.004 0 1 0 0)" font-size="4.32" fill="#383838" text-anchor="middle" stroke="#383838" stroke-width="0.14">2010</text>
<text transform="translate(253.33 161.55) matrix(1 0.004 0 1 0 0)" font-size="4.32" fill="#383838" text-anchor="middle" stroke="#383838" stroke-width="0.14">2020</text>
<text transform="translate(150.35 167.65) matrix(1 0.004 0 1 0 0)" font-size="5.3" fill="#000000" text-anchor="middle">Year</text>
<text transform="translate(5.3 79) rotate(-90)" font-size="5.3" fill="#000000" text-anchor="middle">DALYs Number</text>
<text transform="translate(285.8 79) rotate(90)" font-size="5.3" fill="#000000" text-anchor="middle" textLength="99" lengthAdjust="spacingAndGlyphs">Age−standardized DALYs rate per 100,000</text>
<text transform="translate(297.6 62) matrix(1 0.004 0 1 0 0)" font-size="5.35" fill="#000000">Rate</text>
<line x1="298.4" x2="304.8" y1="70.1" y2="70.1" stroke="#F5A623" stroke-width="1.05"/>
<text transform="translate(308.5 71) matrix(1 0.004 0 1 0 0)" font-size="4.32" fill="#000000">Prostate cancer</text>
<text transform="translate(297.6 88.4) matrix(1 0.004 0 1 0 0)" font-size="5.35" fill="#000000">Number</text>
<rect x="297.9" y="92" width="7.75" height="7.5" fill="#F5A623"/>
<text transform="translate(308.5 97.2) matrix(1 0.004 0 1 0 0)" font-size="4.32" fill="#000000">Prostate cancer</text>
</g>
<g transform="translate(0,516.4)">
<text transform="translate(345.8 6.25) matrix(1 0.004 0 1 0 0)" font-size="7.0" fill="#000" font-weight="bold">H</text>
<line x1="369" x2="619" y1="126" y2="126" stroke="#eeeeee" stroke-width="0.5"/>
<line x1="369" x2="619" y1="79" y2="79" stroke="#eeeeee" stroke-width="0.5"/>
<line x1="369" x2="619" y1="32.1" y2="32.1" stroke="#eeeeee" stroke-width="0.5"/>
<line x1="418.92" x2="418.92" y1="1.3" y2="155.7" stroke="#eaeaea" stroke-width="0.5"/>
<line x1="490.59" x2="490.59" y1="1.3" y2="155.7" stroke="#eaeaea" stroke-width="0.5"/>
<line x1="562.26" x2="562.26" y1="1.3" y2="155.7" stroke="#eaeaea" stroke-width="0.5"/>
<line x1="369" x2="619" y1="149.4" y2="149.4" stroke="#ebebeb" stroke-width="0.5"/>
<line x1="369" x2="619" y1="102.5" y2="102.5" stroke="#ebebeb" stroke-width="0.5"/>
<line x1="369" x2="619" y1="55.6" y2="55.6" stroke="#ebebeb" stroke-width="0.5"/>
<line x1="369" x2="619" y1="8.8" y2="8.8" stroke="#ebebeb" stroke-width="0.5"/>
<line x1="383.08" x2="383.08" y1="1.3" y2="155.7" stroke="#e8e8e8" stroke-width="0.5"/>
<line x1="454.75" x2="454.75" y1="1.3" y2="155.7" stroke="#e8e8e8" stroke-width="0.5"/>
<line x1="526.43" x2="526.43" y1="1.3" y2="155.7" stroke="#e8e8e8" stroke-width="0.5"/>
<line x1="598.1" x2="598.1" y1="1.3" y2="155.7" stroke="#e8e8e8" stroke-width="0.5"/>
<rect x="380.57" y="58.5" width="5.02" height="90.9" fill="#133F99"/>
<rect x="387.74" y="58.1" width="5.02" height="91.3" fill="#133F99"/>
<rect x="394.91" y="58.1" width="5.02" height="91.3" fill="#133F99"/>
<rect x="402.07" y="57.2" width="5.02" height="92.2" fill="#133F99"/>
<rect x="409.24" y="57.2" width="5.02" height="92.2" fill="#133F99"/>
<rect x="416.41" y="55.6" width="5.02" height="93.8" fill="#133F99"/>
<rect x="423.58" y="53.4" width="5.02" height="96" fill="#133F99"/>
<rect x="430.74" y="52.8" width="5.02" height="96.6" fill="#133F99"/>
<rect x="437.91" y="51.9" width="5.02" height="97.5" fill="#133F99"/>
<rect x="445.08" y="50.1" width="5.02" height="99.3" fill="#133F99"/>
<rect x="452.25" y="49" width="5.02" height="100.4" fill="#133F99"/>
<rect x="459.41" y="49.2" width="5.02" height="100.2" fill="#133F99"/>
<rect x="466.58" y="48.6" width="5.02" height="100.8" fill="#133F99"/>
<rect x="473.75" y="47.7" width="5.02" height="101.7" fill="#133F99"/>
<rect x="480.92" y="46.7" width="5.02" height="102.7" fill="#133F99"/>
<rect x="488.08" y="46.7" width="5.02" height="102.7" fill="#133F99"/>
<rect x="495.25" y="46.4" width="5.02" height="103" fill="#133F99"/>
<rect x="502.42" y="45.8" width="5.02" height="103.6" fill="#133F99"/>
<rect x="509.58" y="44.8" width="5.02" height="104.6" fill="#133F99"/>
<rect x="516.75" y="42.9" width="5.02" height="106.5" fill="#133F99"/>
<rect x="523.92" y="41.6" width="5.02" height="107.8" fill="#133F99"/>
<rect x="531.09" y="39.7" width="5.02" height="109.7" fill="#133F99"/>
<rect x="538.25" y="38.2" width="5.02" height="111.2" fill="#133F99"/>
<rect x="545.42" y="35.7" width="5.02" height="113.7" fill="#133F99"/>
<rect x="552.59" y="32.1" width="5.02" height="117.3" fill="#133F99"/>
<rect x="559.76" y="30" width="5.02" height="119.4" fill="#133F99"/>
<rect x="566.92" y="27.4" width="5.02" height="122" fill="#133F99"/>
<rect x="574.09" y="23.6" width="5.02" height="125.8" fill="#133F99"/>
<rect x="581.26" y="20.5" width="5.02" height="128.9" fill="#133F99"/>
<rect x="588.43" y="17.2" width="5.02" height="132.2" fill="#133F99"/>
<rect x="595.59" y="18.5" width="5.02" height="130.9" fill="#133F99"/>
<rect x="602.76" y="17.7" width="5.02" height="131.7" fill="#133F99"/>
<path d="M382.08,52.8H384.08M382.08,63.8H384.08M383.08,52.8V63.8M382.08,149.4H384.08M389.24,52.4H391.25M389.24,63.2H391.25M390.25,52.4V63.2M389.24,149.4H391.25M396.41,52.4H398.42M396.41,63.01H398.42M397.41,52.4V63.01M396.41,149.4H398.42M403.58,51.5H405.59M403.58,61.93H405.59M404.58,51.5V61.93M403.58,149.4H405.59M410.75,51.5H412.75M410.75,61.76H412.75M411.75,51.5V61.76M410.75,149.4H412.75M417.91,49.9H419.92M417.91,60.01H419.92M418.92,49.9V60.01M417.91,149.4H419.92M425.08,47.7H427.09M425.08,57.67H427.09M426.08,47.7V57.67M425.08,149.4H427.09M432.25,47.1H434.26M432.25,56.95H434.26M433.25,47.1V56.95M432.25,149.4H434.26M439.42,46.2H441.42M439.42,55.95H441.42M440.42,46.2V55.95M439.42,149.4H441.42M446.58,44.4H448.59M446.58,54.06H448.59M447.59,44.4V54.06M446.58,149.4H448.59M453.75,43.3H455.76M453.75,52.89H455.76M454.75,43.3V52.89M453.75,149.4H455.76M460.92,43.5H462.92M460.92,53.04H462.92M461.92,43.5V53.04M460.92,149.4H462.92M468.09,42.9H470.09M468.09,52.41H470.09M469.09,42.9V52.41M468.09,149.4H470.09M475.25,42H477.26M475.25,51.5H477.26M476.26,42V51.5M475.25,149.4H477.26M482.42,41.01H484.43M482.42,50.5H484.43M483.42,41.01V50.5M482.42,149.4H484.43M489.59,41.04H491.59M489.59,50.52H491.59M490.59,41.04V50.52M489.59,149.4H491.59M496.75,40.78H498.76M496.75,50.24H498.76M497.76,40.78V50.24M496.75,149.4H498.76M503.92,40.22H505.93M503.92,49.67H505.93M504.93,40.22V49.67M503.92,149.4H505.93M511.09,39.26H513.1M511.09,48.71H513.1M512.09,39.26V48.71M511.09,149.4H513.1M518.26,37.39H520.26M518.26,46.85H520.26M519.26,37.39V46.85M518.26,149.4H520.26M525.42,36.1H527.43M525.42,45.6H527.43M526.43,36.1V45.6M525.42,149.4H527.43M532.59,34.18H534.6M532.59,43.8H534.6M533.6,34.18V43.8M532.59,149.4H534.6M539.76,32.62H541.77M539.76,42.48H541.77M540.76,32.62V42.48M539.76,149.4H541.77M546.93,30.02H548.93M546.93,40.22H548.93M547.93,30.02V40.22M546.93,149.4H548.93M554.09,26.26H556.1M554.09,36.91H556.1M555.1,26.26V36.91M554.09,149.4H556.1M561.26,23.95H563.27M561.26,35.12H563.27M562.26,23.95V35.12M561.26,149.4H563.27M568.43,21.07H570.44M568.43,32.85H570.44M569.43,21.07V32.85M568.43,149.4H570.44M575.6,16.92H577.6M575.6,29.36H577.6M576.6,16.92V29.36M575.6,149.4H577.6M582.76,13.4H584.77M582.76,26.55H584.77M583.77,13.4V26.55M582.76,149.4H584.77M589.93,9.6H591.94M589.93,23.5H591.94M590.93,9.6V23.5M589.93,149.4H591.94M597.1,8.5H599.11M597.1,25H599.11M598.1,8.5V25M597.1,149.4H599.11M604.27,9H606.27M604.27,24.7H606.27M605.27,9V24.7M604.27,149.4H606.27" stroke="#000" stroke-width="0.62" fill="none"/>
<polygon points="383.08,56.1 390.25,58.5 397.41,60.21 404.58,61.34 411.75,62.02 418.92,62.27 426.08,62.43 433.25,62.56 440.42,62.74 447.59,63.31 454.75,64.15 461.92,65.05 469.09,65.96 476.26,66.71 483.42,67.36 490.59,67.94 497.76,68.48 504.93,69.07 512.09,69.62 519.26,69.84 526.43,69.8 533.6,69.75 540.76,69.37 547.93,68.66 555.1,67.77 562.26,66.77 569.43,65.88 576.6,64.98 583.77,63.76 590.93,62.99 598.1,63.25 605.27,64.2 605.27,72.2 598.1,71.15 590.93,70.81 583.77,71.49 576.6,72.62 569.43,73.43 562.26,74.23 555.1,75.14 547.93,75.94 540.76,76.55 533.6,76.85 526.43,76.8 519.26,76.76 512.09,76.45 504.93,75.8 497.76,75.12 490.59,74.5 483.42,73.82 476.26,73.09 469.09,72.24 461.92,71.24 454.75,70.25 447.59,69.33 440.42,68.66 433.25,68.39 426.08,68.17 418.92,67.92 411.75,67.58 404.58,66.81 397.41,65.59 390.25,63.79 383.08,61.3" fill="#133F99" fill-opacity="0.22"/>
<polyline points="383.08,58.7 390.25,61.14 397.41,62.9 404.58,64.08 411.75,64.8 418.92,65.09 426.08,65.3 433.25,65.48 440.42,65.7 447.59,66.32 454.75,67.2 461.92,68.14 469.09,69.1 476.26,69.9 483.42,70.59 490.59,71.22 497.76,71.8 504.93,72.44 512.09,73.04 519.26,73.3 526.43,73.3 533.6,73.3 540.76,72.96 547.93,72.3 555.1,71.46 562.26,70.5 569.43,69.66 576.6,68.8 583.77,67.63 590.93,66.9 598.1,67.2 605.27,68.2" fill="none" stroke="#133F99" stroke-width="0.9" stroke-linejoin="round"/>
<text transform="translate(367 151.05) matrix(1 0.004 0 1 0 0)" font-size="4.32" fill="#383838" text-anchor="end" stroke="#383838" stroke-width="0.14">0</text>
<text transform="translate(367 104.15) matrix(1 0.004 0 1 0 0)" font-size="4.32" fill="#383838" text-anchor="end" stroke="#383838" stroke-width="0.14">200000</text>
<text transform="translate(367 57.25) matrix(1 0.004 0 1 0 0)" font-size="4.32" fill="#383838" text-anchor="end" stroke="#383838" stroke-width="0.14">400000</text>
<text transform="translate(367 10.45) matrix(1 0.004 0 1 0 0)" font-size="4.32" fill="#383838" text-anchor="end" stroke="#383838" stroke-width="0.14">600000</text>
<text transform="translate(621.2 150.85) matrix(1 0.004 0 1 0 0)" font-size="4.32" fill="#383838" stroke="#383838" stroke-width="0.14">0</text>
<text transform="translate(621.2 121.65) matrix(1 0.004 0 1 0 0)" font-size="4.32" fill="#383838" stroke="#383838" stroke-width="0.14">5</text>
<text transform="translate(621.2 92.25) matrix(1 0.004 0 1 0 0)" font-size="4.32" fill="#383838" stroke="#383838" stroke-width="0.14">10</text>
<text transform="translate(621.2 62.95) matrix(1 0.004 0 1 0 0)" font-size="4.32" fill="#383838" stroke="#383838" stroke-width="0.14">15</text>
<text transform="translate(621.2 33.75) matrix(1 0.004 0 1 0 0)" font-size="4.32" fill="#383838" stroke="#383838" stroke-width="0.14">20</text>
<text transform="translate(621.2 4.35) matrix(1 0.004 0 1 0 0)" font-size="4.32" fill="#383838" stroke="#383838" stroke-width="0.14">25</text>
<text transform="translate(383.08 161.55) matrix(1 0.004 0 1 0 0)" font-size="4.32" fill="#383838" text-anchor="middle" stroke="#383838" stroke-width="0.14">1990</text>
<text transform="translate(454.75 161.55) matrix(1 0.004 0 1 0 0)" font-size="4.32" fill="#383838" text-anchor="middle" stroke="#383838" stroke-width="0.14">2000</text>
<text transform="translate(526.43 161.55) matrix(1 0.004 0 1 0 0)" font-size="4.32" fill="#383838" text-anchor="middle" stroke="#383838" stroke-width="0.14">2010</text>
<text transform="translate(598.1 161.55) matrix(1 0.004 0 1 0 0)" font-size="4.32" fill="#383838" text-anchor="middle" stroke="#383838" stroke-width="0.14">2020</text>
<text transform="translate(494 167.65) matrix(1 0.004 0 1 0 0)" font-size="5.3" fill="#000000" text-anchor="middle">Year</text>
<text transform="translate(349.9 79) rotate(-90)" font-size="5.3" fill="#000000" text-anchor="middle">DALYs Number</text>
<text transform="translate(628.7 79) rotate(90)" font-size="5.3" fill="#000000" text-anchor="middle" textLength="99" lengthAdjust="spacingAndGlyphs">Age−standardized DALYs rate per 100,000</text>
<text transform="translate(640.1 62) matrix(1 0.004 0 1 0 0)" font-size="5.35" fill="#000000">Rate</text>
<line x1="640.9" x2="647.3" y1="70.1" y2="70.1" stroke="#133F99" stroke-width="1.05"/>
<text transform="translate(651 71) matrix(1 0.004 0 1 0 0)" font-size="4.32" fill="#000000">Testicular cancer</text>
<text transform="translate(640.1 88.4) matrix(1 0.004 0 1 0 0)" font-size="5.35" fill="#000000">Number</text>
<rect x="640.4" y="92" width="7.75" height="7.5" fill="#133F99"/>
<text transform="translate(651 97.2) matrix(1 0.004 0 1 0 0)" font-size="4.32" fill="#000000">Testicular cancer</text>
</g>
</svg>
</div>
</body></html>
